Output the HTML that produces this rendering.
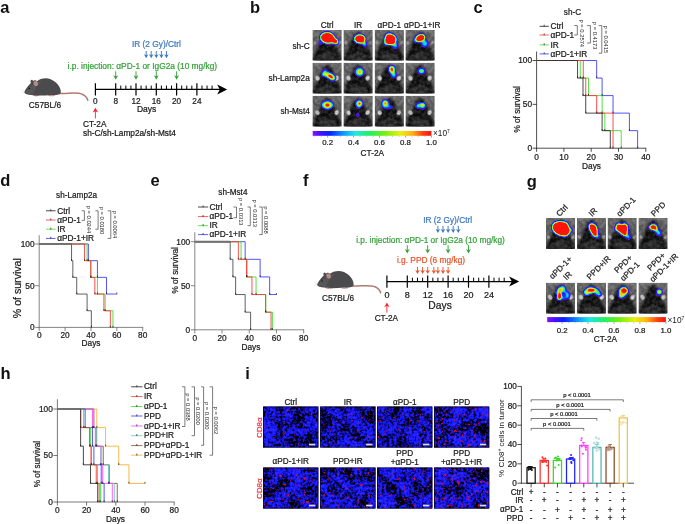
<!DOCTYPE html>
<html><head><meta charset="utf-8"><title>Figure</title>
<style>
html,body{margin:0;padding:0;background:#fff;}
svg{display:block;font-family:"Liberation Sans", Arial, Helvetica, sans-serif;}
</style></head>
<body>
<svg width="685" height="524" viewBox="0 0 685 524">

<defs>
<linearGradient id="rainbow" x1="0" x2="1" y1="0" y2="0">
<stop offset="0" stop-color="#8a10ff"/><stop offset="0.06" stop-color="#4a10ff"/><stop offset="0.14" stop-color="#0a20ff"/>
<stop offset="0.27" stop-color="#10a0ff"/><stop offset="0.36" stop-color="#20e8e0"/><stop offset="0.48" stop-color="#20f060"/>
<stop offset="0.60" stop-color="#70f010"/><stop offset="0.74" stop-color="#e8f010"/><stop offset="0.84" stop-color="#ffb010"/>
<stop offset="0.93" stop-color="#ff4010"/><stop offset="1" stop-color="#ff1010"/>
</linearGradient>
<linearGradient id="tilegrad" x1="0" x2="0" y1="0" y2="1">
<stop offset="0" stop-color="#888" stop-opacity="0.45"/><stop offset="0.5" stop-color="#555" stop-opacity="0.1"/><stop offset="1" stop-color="#222" stop-opacity="0.35"/>
</linearGradient>
<filter id="b1" x="-20%" y="-20%" width="140%" height="140%"><feGaussianBlur stdDeviation="0.9"/></filter>
<filter id="b05" x="-30%" y="-30%" width="160%" height="160%"><feGaussianBlur stdDeviation="0.6"/></filter>
<filter id="b03" x="-30%" y="-30%" width="160%" height="160%"><feGaussianBlur stdDeviation="0.25"/></filter>

<filter id="heat" x="-10%" y="-10%" width="120%" height="120%" color-interpolation-filters="sRGB">
<feGaussianBlur in="SourceAlpha" stdDeviation="0.95" result="bl"/>
<feColorMatrix in="bl" type="matrix" values="0 0 0 1 0  0 0 0 1 0  0 0 0 1 0  0 0 0 1 0" result="g"/>
<feComponentTransfer in="g">
<feFuncR type="table" tableValues="0.60 0.60 0.30 0.08 0.05 0.05 0.20 0.65 0.95 1.00 1.00 1.00 1.00"/>
<feFuncG type="table" tableValues="0.05 0.05 0.08 0.12 0.40 0.85 0.95 0.95 0.90 0.55 0.10 0.08 0.08"/>
<feFuncB type="table" tableValues="0.95 0.95 1.00 1.00 1.00 0.95 0.30 0.10 0.08 0.05 0.05 0.05 0.05"/>
<feFuncA type="linear" slope="12" intercept="-0.9"/>
</feComponentTransfer>
</filter>
<filter id="gn0" x="0" y="0" width="100%" height="100%" color-interpolation-filters="sRGB">
<feTurbulence type="fractalNoise" baseFrequency="0.28" numOctaves="3" seed="11"/>
<feColorMatrix type="matrix" values="3 0 0 0 -1  3 0 0 0 -1  3 0 0 0 -1  0 0 0 0 0.5"/>
<feComposite operator="in" in2="SourceGraphic"/>
</filter>
<filter id="gn1" x="0" y="0" width="100%" height="100%" color-interpolation-filters="sRGB">
<feTurbulence type="fractalNoise" baseFrequency="0.28" numOctaves="3" seed="18"/>
<feColorMatrix type="matrix" values="3 0 0 0 -1  3 0 0 0 -1  3 0 0 0 -1  0 0 0 0 0.5"/>
<feComposite operator="in" in2="SourceGraphic"/>
</filter>
<filter id="gn2" x="0" y="0" width="100%" height="100%" color-interpolation-filters="sRGB">
<feTurbulence type="fractalNoise" baseFrequency="0.28" numOctaves="3" seed="25"/>
<feColorMatrix type="matrix" values="3 0 0 0 -1  3 0 0 0 -1  3 0 0 0 -1  0 0 0 0 0.5"/>
<feComposite operator="in" in2="SourceGraphic"/>
</filter>
<filter id="cells0" x="0" y="0" width="100%" height="100%" color-interpolation-filters="sRGB">
<feTurbulence type="fractalNoise" baseFrequency="0.4" numOctaves="2" seed="3"/>
<feColorMatrix type="matrix" values="1 0 0 0 0  1 0 0 0 0  1 0 0 0 0  0 0 0 0 1" result="a"/>
<feTurbulence type="fractalNoise" baseFrequency="0.07" numOctaves="2" seed="70"/>
<feColorMatrix type="matrix" values="1 0 0 0 0  1 0 0 0 0  1 0 0 0 0  0 0 0 0 1" result="b"/>
<feComposite operator="arithmetic" in="a" in2="b" k1="0" k2="1" k3="0.8" k4="-0.4"/>
<feColorMatrix type="matrix" values="0.3 0 0 0 -0.09  0.3 0 0 0 -0.09  3.1 0 0 0 -0.88  0 0 0 0 1"/>
<feComposite operator="in" in2="SourceGraphic"/>
</filter>
<filter id="redc0" x="0" y="0" width="100%" height="100%" color-interpolation-filters="sRGB">
<feTurbulence type="fractalNoise" baseFrequency="0.3" numOctaves="2" seed="41" result="n"/>
<feColorMatrix type="matrix" values="0 0 0 0 0.85  0 0 0 0 0.05  0 0 0 0 0.22  0 6 0 0 -4.20"/>
<feComposite operator="in" in2="SourceGraphic"/>
</filter>
<filter id="cells1" x="0" y="0" width="100%" height="100%" color-interpolation-filters="sRGB">
<feTurbulence type="fractalNoise" baseFrequency="0.4" numOctaves="2" seed="8"/>
<feColorMatrix type="matrix" values="1 0 0 0 0  1 0 0 0 0  1 0 0 0 0  0 0 0 0 1" result="a"/>
<feTurbulence type="fractalNoise" baseFrequency="0.07" numOctaves="2" seed="73"/>
<feColorMatrix type="matrix" values="1 0 0 0 0  1 0 0 0 0  1 0 0 0 0  0 0 0 0 1" result="b"/>
<feComposite operator="arithmetic" in="a" in2="b" k1="0" k2="1" k3="0.8" k4="-0.4"/>
<feColorMatrix type="matrix" values="0.3 0 0 0 -0.09  0.3 0 0 0 -0.09  3.1 0 0 0 -0.88  0 0 0 0 1"/>
<feComposite operator="in" in2="SourceGraphic"/>
</filter>
<filter id="redc1" x="0" y="0" width="100%" height="100%" color-interpolation-filters="sRGB">
<feTurbulence type="fractalNoise" baseFrequency="0.3" numOctaves="2" seed="50" result="n"/>
<feColorMatrix type="matrix" values="0 0 0 0 0.85  0 0 0 0 0.05  0 0 0 0 0.22  0 6 0 0 -4.08"/>
<feComposite operator="in" in2="SourceGraphic"/>
</filter>
<filter id="cells2" x="0" y="0" width="100%" height="100%" color-interpolation-filters="sRGB">
<feTurbulence type="fractalNoise" baseFrequency="0.4" numOctaves="2" seed="13"/>
<feColorMatrix type="matrix" values="1 0 0 0 0  1 0 0 0 0  1 0 0 0 0  0 0 0 0 1" result="a"/>
<feTurbulence type="fractalNoise" baseFrequency="0.07" numOctaves="2" seed="76"/>
<feColorMatrix type="matrix" values="1 0 0 0 0  1 0 0 0 0  1 0 0 0 0  0 0 0 0 1" result="b"/>
<feComposite operator="arithmetic" in="a" in2="b" k1="0" k2="1" k3="0.8" k4="-0.4"/>
<feColorMatrix type="matrix" values="0.3 0 0 0 -0.09  0.3 0 0 0 -0.09  3.1 0 0 0 -0.88  0 0 0 0 1"/>
<feComposite operator="in" in2="SourceGraphic"/>
</filter>
<filter id="redc2" x="0" y="0" width="100%" height="100%" color-interpolation-filters="sRGB">
<feTurbulence type="fractalNoise" baseFrequency="0.3" numOctaves="2" seed="59" result="n"/>
<feColorMatrix type="matrix" values="0 0 0 0 0.85  0 0 0 0 0.05  0 0 0 0 0.22  0 6 0 0 -4.02"/>
<feComposite operator="in" in2="SourceGraphic"/>
</filter>
<filter id="cells3" x="0" y="0" width="100%" height="100%" color-interpolation-filters="sRGB">
<feTurbulence type="fractalNoise" baseFrequency="0.4" numOctaves="2" seed="18"/>
<feColorMatrix type="matrix" values="1 0 0 0 0  1 0 0 0 0  1 0 0 0 0  0 0 0 0 1" result="a"/>
<feTurbulence type="fractalNoise" baseFrequency="0.07" numOctaves="2" seed="79"/>
<feColorMatrix type="matrix" values="1 0 0 0 0  1 0 0 0 0  1 0 0 0 0  0 0 0 0 1" result="b"/>
<feComposite operator="arithmetic" in="a" in2="b" k1="0" k2="1" k3="0.8" k4="-0.4"/>
<feColorMatrix type="matrix" values="0.3 0 0 0 -0.09  0.3 0 0 0 -0.09  3.1 0 0 0 -0.88  0 0 0 0 1"/>
<feComposite operator="in" in2="SourceGraphic"/>
</filter>
<filter id="redc3" x="0" y="0" width="100%" height="100%" color-interpolation-filters="sRGB">
<feTurbulence type="fractalNoise" baseFrequency="0.3" numOctaves="2" seed="68" result="n"/>
<feColorMatrix type="matrix" values="0 0 0 0 0.85  0 0 0 0 0.05  0 0 0 0 0.22  0 6 0 0 -3.84"/>
<feComposite operator="in" in2="SourceGraphic"/>
</filter>
<filter id="cells4" x="0" y="0" width="100%" height="100%" color-interpolation-filters="sRGB">
<feTurbulence type="fractalNoise" baseFrequency="0.4" numOctaves="2" seed="23"/>
<feColorMatrix type="matrix" values="1 0 0 0 0  1 0 0 0 0  1 0 0 0 0  0 0 0 0 1" result="a"/>
<feTurbulence type="fractalNoise" baseFrequency="0.07" numOctaves="2" seed="82"/>
<feColorMatrix type="matrix" values="1 0 0 0 0  1 0 0 0 0  1 0 0 0 0  0 0 0 0 1" result="b"/>
<feComposite operator="arithmetic" in="a" in2="b" k1="0" k2="1" k3="0.8" k4="-0.4"/>
<feColorMatrix type="matrix" values="0.3 0 0 0 -0.09  0.3 0 0 0 -0.09  3.1 0 0 0 -0.88  0 0 0 0 1"/>
<feComposite operator="in" in2="SourceGraphic"/>
</filter>
<filter id="redc4" x="0" y="0" width="100%" height="100%" color-interpolation-filters="sRGB">
<feTurbulence type="fractalNoise" baseFrequency="0.3" numOctaves="2" seed="77" result="n"/>
<feColorMatrix type="matrix" values="0 0 0 0 0.85  0 0 0 0 0.05  0 0 0 0 0.22  0 6 0 0 -3.90"/>
<feComposite operator="in" in2="SourceGraphic"/>
</filter>
<filter id="cells5" x="0" y="0" width="100%" height="100%" color-interpolation-filters="sRGB">
<feTurbulence type="fractalNoise" baseFrequency="0.4" numOctaves="2" seed="28"/>
<feColorMatrix type="matrix" values="1 0 0 0 0  1 0 0 0 0  1 0 0 0 0  0 0 0 0 1" result="a"/>
<feTurbulence type="fractalNoise" baseFrequency="0.07" numOctaves="2" seed="85"/>
<feColorMatrix type="matrix" values="1 0 0 0 0  1 0 0 0 0  1 0 0 0 0  0 0 0 0 1" result="b"/>
<feComposite operator="arithmetic" in="a" in2="b" k1="0" k2="1" k3="0.8" k4="-0.4"/>
<feColorMatrix type="matrix" values="0.3 0 0 0 -0.09  0.3 0 0 0 -0.09  3.1 0 0 0 -0.88  0 0 0 0 1"/>
<feComposite operator="in" in2="SourceGraphic"/>
</filter>
<filter id="redc5" x="0" y="0" width="100%" height="100%" color-interpolation-filters="sRGB">
<feTurbulence type="fractalNoise" baseFrequency="0.3" numOctaves="2" seed="86" result="n"/>
<feColorMatrix type="matrix" values="0 0 0 0 0.85  0 0 0 0 0.05  0 0 0 0 0.22  0 6 0 0 -3.90"/>
<feComposite operator="in" in2="SourceGraphic"/>
</filter>
<filter id="cells6" x="0" y="0" width="100%" height="100%" color-interpolation-filters="sRGB">
<feTurbulence type="fractalNoise" baseFrequency="0.4" numOctaves="2" seed="33"/>
<feColorMatrix type="matrix" values="1 0 0 0 0  1 0 0 0 0  1 0 0 0 0  0 0 0 0 1" result="a"/>
<feTurbulence type="fractalNoise" baseFrequency="0.07" numOctaves="2" seed="88"/>
<feColorMatrix type="matrix" values="1 0 0 0 0  1 0 0 0 0  1 0 0 0 0  0 0 0 0 1" result="b"/>
<feComposite operator="arithmetic" in="a" in2="b" k1="0" k2="1" k3="0.8" k4="-0.4"/>
<feColorMatrix type="matrix" values="0.3 0 0 0 -0.09  0.3 0 0 0 -0.09  3.1 0 0 0 -0.88  0 0 0 0 1"/>
<feComposite operator="in" in2="SourceGraphic"/>
</filter>
<filter id="redc6" x="0" y="0" width="100%" height="100%" color-interpolation-filters="sRGB">
<feTurbulence type="fractalNoise" baseFrequency="0.3" numOctaves="2" seed="95" result="n"/>
<feColorMatrix type="matrix" values="0 0 0 0 0.85  0 0 0 0 0.05  0 0 0 0 0.22  0 6 0 0 -3.96"/>
<feComposite operator="in" in2="SourceGraphic"/>
</filter>
<filter id="cells7" x="0" y="0" width="100%" height="100%" color-interpolation-filters="sRGB">
<feTurbulence type="fractalNoise" baseFrequency="0.4" numOctaves="2" seed="38"/>
<feColorMatrix type="matrix" values="1 0 0 0 0  1 0 0 0 0  1 0 0 0 0  0 0 0 0 1" result="a"/>
<feTurbulence type="fractalNoise" baseFrequency="0.07" numOctaves="2" seed="91"/>
<feColorMatrix type="matrix" values="1 0 0 0 0  1 0 0 0 0  1 0 0 0 0  0 0 0 0 1" result="b"/>
<feComposite operator="arithmetic" in="a" in2="b" k1="0" k2="1" k3="0.8" k4="-0.4"/>
<feColorMatrix type="matrix" values="0.3 0 0 0 -0.09  0.3 0 0 0 -0.09  3.1 0 0 0 -0.88  0 0 0 0 1"/>
<feComposite operator="in" in2="SourceGraphic"/>
</filter>
<filter id="redc7" x="0" y="0" width="100%" height="100%" color-interpolation-filters="sRGB">
<feTurbulence type="fractalNoise" baseFrequency="0.3" numOctaves="2" seed="104" result="n"/>
<feColorMatrix type="matrix" values="0 0 0 0 0.85  0 0 0 0 0.05  0 0 0 0 0.22  0 6 0 0 -3.66"/>
<feComposite operator="in" in2="SourceGraphic"/>
</filter>
</defs>
<rect width="685" height="524" fill="#fff"/>
<text x="0.20" y="12.60" font-size="16.5" text-anchor="start" fill="#111" stroke="#111" stroke-width="0" font-weight="bold">a</text>
<g transform="translate(24.20 92.00) scale(1.0)">
<path d="M34 1.2 C42 2.2 52 -0.5 58 2.2 C61.5 3.8 63 6 63.6 8.2" stroke="#b07a70" stroke-width="1.5" fill="none" stroke-linecap="round"/>
<ellipse cx="12" cy="3.6" rx="3.2" ry="0.8" fill="#c99a92"/>
<ellipse cx="27.5" cy="3.4" rx="3.6" ry="0.8" fill="#c99a92"/>
<path d="M0 0.2 C1.5 -3.5 5 -8 8.5 -10.5 C10 -12.5 12 -12 12.8 -10.8 C16 -13.5 22 -14.8 27 -12.5 C33 -9.8 37 -4 36.6 0.2 C36.2 3 32 3.2 27 3 C20 3.6 12 3.8 7 3 C3.5 2.6 0.8 2 0 0.2 Z" fill="#4b4a4c"/>
<path d="M5 -4 C9 -9 14 -11 18 -11 C14 -7 10 -2 9 2.6 C6 2.2 2 2 0.5 0.5 Z" fill="#565557"/>
<ellipse cx="11.6" cy="-8.6" rx="2.2" ry="2.6" fill="#b88a86" transform="rotate(-20 11.6 -8.6)"/>
<ellipse cx="7.6" cy="-10.6" rx="1.3" ry="1.6" fill="#4b4a4c"/>
<circle cx="5.2" cy="-3.6" r="0.7" fill="#151515"/>
<path d="M0.5 -0.5 L-2.6 -2.2 M0.5 0 L-2.8 0.6" stroke="#bbb" stroke-width="0.3"/>
</g>
<text x="28.80" y="108.20" font-size="8.3" text-anchor="start" fill="#1a1a1a" stroke="#1a1a1a" stroke-width="0.22" font-weight="normal">C57BL/6</text>
<line x1="95.40" y1="89.45" x2="221.20" y2="89.45" stroke="#000" stroke-width="1.25"/>
<path d="M227.20 89.45 L217.20 84.45 L219.80 89.45 L217.20 94.45 Z" fill="#000"/>
<line x1="95.40" y1="83.35" x2="95.40" y2="95.55" stroke="#000" stroke-width="1.2"/>
<text x="95.40" y="103.50" font-size="8.2" text-anchor="middle" fill="#1a1a1a" stroke="#1a1a1a" stroke-width="0.22" font-weight="normal">0</text>
<line x1="115.70" y1="83.35" x2="115.70" y2="95.55" stroke="#000" stroke-width="1.2"/>
<text x="115.70" y="103.50" font-size="8.2" text-anchor="middle" fill="#1a1a1a" stroke="#1a1a1a" stroke-width="0.22" font-weight="normal">8</text>
<line x1="120.78" y1="85.55" x2="120.78" y2="89.45" stroke="#000" stroke-width="1.0"/>
<line x1="125.85" y1="85.55" x2="125.85" y2="89.45" stroke="#000" stroke-width="1.0"/>
<line x1="130.93" y1="85.55" x2="130.93" y2="89.45" stroke="#000" stroke-width="1.0"/>
<line x1="136.00" y1="83.35" x2="136.00" y2="95.55" stroke="#000" stroke-width="1.2"/>
<text x="136.00" y="103.50" font-size="8.2" text-anchor="middle" fill="#1a1a1a" stroke="#1a1a1a" stroke-width="0.22" font-weight="normal">12</text>
<line x1="141.07" y1="85.55" x2="141.07" y2="89.45" stroke="#000" stroke-width="1.0"/>
<line x1="146.15" y1="85.55" x2="146.15" y2="89.45" stroke="#000" stroke-width="1.0"/>
<line x1="151.22" y1="85.55" x2="151.22" y2="89.45" stroke="#000" stroke-width="1.0"/>
<line x1="156.30" y1="83.35" x2="156.30" y2="95.55" stroke="#000" stroke-width="1.2"/>
<text x="156.30" y="103.50" font-size="8.2" text-anchor="middle" fill="#1a1a1a" stroke="#1a1a1a" stroke-width="0.22" font-weight="normal">16</text>
<line x1="161.38" y1="85.55" x2="161.38" y2="89.45" stroke="#000" stroke-width="1.0"/>
<line x1="166.45" y1="85.55" x2="166.45" y2="89.45" stroke="#000" stroke-width="1.0"/>
<line x1="171.53" y1="85.55" x2="171.53" y2="89.45" stroke="#000" stroke-width="1.0"/>
<line x1="176.60" y1="83.35" x2="176.60" y2="95.55" stroke="#000" stroke-width="1.2"/>
<text x="176.60" y="103.50" font-size="8.2" text-anchor="middle" fill="#1a1a1a" stroke="#1a1a1a" stroke-width="0.22" font-weight="normal">20</text>
<line x1="181.68" y1="85.55" x2="181.68" y2="89.45" stroke="#000" stroke-width="1.0"/>
<line x1="186.75" y1="85.55" x2="186.75" y2="89.45" stroke="#000" stroke-width="1.0"/>
<line x1="191.83" y1="85.55" x2="191.83" y2="89.45" stroke="#000" stroke-width="1.0"/>
<line x1="196.90" y1="83.35" x2="196.90" y2="95.55" stroke="#000" stroke-width="1.2"/>
<text x="196.90" y="103.50" font-size="8.2" text-anchor="middle" fill="#1a1a1a" stroke="#1a1a1a" stroke-width="0.22" font-weight="normal">24</text>
<line x1="201.97" y1="85.55" x2="201.97" y2="89.45" stroke="#000" stroke-width="1.0"/>
<line x1="207.05" y1="85.55" x2="207.05" y2="89.45" stroke="#000" stroke-width="1.0"/>
<line x1="212.12" y1="85.55" x2="212.12" y2="89.45" stroke="#000" stroke-width="1.0"/>
<text x="146.60" y="112.40" font-size="8.5" text-anchor="middle" fill="#1a1a1a" stroke="#1a1a1a" stroke-width="0.22" font-weight="normal">Days</text>
<text x="67.60" y="68.80" font-size="8.35" text-anchor="start" fill="#35a23a" stroke="#35a23a" stroke-width="0.22" font-weight="normal">i.p. injection: αPD-1 or IgG2a (10 mg/kg)</text>
<text x="132.00" y="47.20" font-size="8.3" text-anchor="start" fill="#3b78c3" stroke="#3b78c3" stroke-width="0.22" font-weight="normal">IR (2 Gy)/Ctrl</text>
<line x1="146.15" y1="51.00" x2="146.15" y2="55.80" stroke="#3b78c3" stroke-width="0.95"/>
<path d="M143.90 54.20 L146.15 55.32 L148.40 54.20 L146.15 58.20 Z" fill="#3b78c3"/>
<line x1="151.23" y1="51.00" x2="151.23" y2="55.80" stroke="#3b78c3" stroke-width="0.95"/>
<path d="M148.98 54.20 L151.23 55.32 L153.48 54.20 L151.23 58.20 Z" fill="#3b78c3"/>
<line x1="156.30" y1="51.00" x2="156.30" y2="55.80" stroke="#3b78c3" stroke-width="0.95"/>
<path d="M154.05 54.20 L156.30 55.32 L158.55 54.20 L156.30 58.20 Z" fill="#3b78c3"/>
<line x1="161.38" y1="51.00" x2="161.38" y2="55.80" stroke="#3b78c3" stroke-width="0.95"/>
<path d="M159.12 54.20 L161.38 55.32 L163.62 54.20 L161.38 58.20 Z" fill="#3b78c3"/>
<line x1="166.45" y1="51.00" x2="166.45" y2="55.80" stroke="#3b78c3" stroke-width="0.95"/>
<path d="M164.20 54.20 L166.45 55.32 L168.70 54.20 L166.45 58.20 Z" fill="#3b78c3"/>
<line x1="115.70" y1="71.30" x2="115.70" y2="77.10" stroke="#35a23a" stroke-width="0.95"/>
<path d="M113.20 75.30 L115.70 76.56 L118.20 75.30 L115.70 79.80 Z" fill="#35a23a"/>
<line x1="136.00" y1="71.30" x2="136.00" y2="77.10" stroke="#35a23a" stroke-width="0.95"/>
<path d="M133.50 75.30 L136.00 76.56 L138.50 75.30 L136.00 79.80 Z" fill="#35a23a"/>
<line x1="156.30" y1="71.30" x2="156.30" y2="77.10" stroke="#35a23a" stroke-width="0.95"/>
<path d="M153.80 75.30 L156.30 76.56 L158.80 75.30 L156.30 79.80 Z" fill="#35a23a"/>
<line x1="176.60" y1="71.30" x2="176.60" y2="77.10" stroke="#35a23a" stroke-width="0.95"/>
<path d="M174.10 75.30 L176.60 76.56 L179.10 75.30 L176.60 79.80 Z" fill="#35a23a"/>
<line x1="95.40" y1="118.40" x2="95.40" y2="110.68" stroke="#f5222d" stroke-width="0.9"/>
<path d="M92.70 112.60 L95.40 111.26 L98.10 112.60 L95.40 107.80 Z" fill="#f5222d"/>
<text x="83.00" y="127.00" font-size="8.3" text-anchor="start" fill="#1a1a1a" stroke="#1a1a1a" stroke-width="0.22" font-weight="normal">CT-2A</text>
<text x="83.00" y="136.30" font-size="8.27" text-anchor="start" fill="#1a1a1a" stroke="#1a1a1a" stroke-width="0.22" font-weight="normal">sh-C/sh-Lamp2a/sh-Mst4</text>
<text x="250.00" y="12.60" font-size="16.5" text-anchor="start" fill="#111" stroke="#111" stroke-width="0" font-weight="bold">b</text>
<text x="327.10" y="28.20" font-size="8.2" text-anchor="middle" fill="#1a1a1a" stroke="#1a1a1a" stroke-width="0.22" font-weight="normal">Ctrl</text>
<text x="358.10" y="28.20" font-size="8.2" text-anchor="middle" fill="#1a1a1a" stroke="#1a1a1a" stroke-width="0.22" font-weight="normal">IR</text>
<text x="389.30" y="28.20" font-size="8.2" text-anchor="middle" fill="#1a1a1a" stroke="#1a1a1a" stroke-width="0.22" font-weight="normal">αPD-1</text>
<text x="404.00" y="28.20" font-size="8.2" text-anchor="start" fill="#1a1a1a" stroke="#1a1a1a" stroke-width="0.22" font-weight="normal">αPD-1+IR</text>
<text x="309.80" y="48.50" font-size="8.25" text-anchor="end" fill="#1a1a1a" stroke="#1a1a1a" stroke-width="0.22" font-weight="normal">sh-C</text>
<text x="309.80" y="81.40" font-size="8.25" text-anchor="end" fill="#1a1a1a" stroke="#1a1a1a" stroke-width="0.22" font-weight="normal">sh-Lamp2a</text>
<text x="309.80" y="114.40" font-size="8.25" text-anchor="end" fill="#1a1a1a" stroke="#1a1a1a" stroke-width="0.22" font-weight="normal">sh-Mst4</text>
<svg x="312.50" y="29.90" width="29.20" height="30.60" viewBox="0 0 29.20 30.60" overflow="hidden">
<rect width="29.20" height="30.60" fill="#5a5a5a"/>
<rect width="29.20" height="30.60" fill="url(#tilegrad)"/>
<path d="M14.60 1.84 C19.27 2.45 21.02 10.40 23.36 15.91 C26.86 22.03 28.32 27.54 28.32 32.60 L0.88 32.60 C0.88 27.54 2.34 22.03 5.84 15.91 C8.18 10.40 9.93 2.45 14.60 1.84 Z" fill="#0e0e0e" filter="url(#b1)"/>
<ellipse cx="14.60" cy="28.15" rx="8.76" ry="6.12" fill="#3a3a3a" opacity="0.55" filter="url(#b1)"/>
<ellipse cx="2.34" cy="12.85" rx="1.64" ry="2.08" fill="#8e8e8e" transform="rotate(-30 2.34 12.85)" filter="url(#b05)"/>
<ellipse cx="26.86" cy="12.85" rx="1.64" ry="2.08" fill="#8e8e8e" transform="rotate(30 26.86 12.85)" filter="url(#b05)"/>
<rect width="29.20" height="30.60" fill="#fff" filter="url(#gn0)" opacity="0.22"/>
<g filter="url(#heat)">
<ellipse cx="15.00" cy="8.00" rx="7.40" ry="5.60" fill="#fff" fill-opacity="1" transform="rotate(8 15.00 8.00)"/>
<ellipse cx="21.00" cy="10.80" rx="4.80" ry="2.70" fill="#fff" fill-opacity="1" transform="rotate(15 21.00 10.80)"/>
<ellipse cx="7.50" cy="13.60" rx="1.60" ry="1.80" fill="#fff" fill-opacity="0.35" transform="rotate(0 7.50 13.60)"/>
<ellipse cx="24.00" cy="13.00" rx="2.20" ry="1.60" fill="#fff" fill-opacity="0.45" transform="rotate(0 24.00 13.00)"/>
</g>
</svg>
<svg x="343.50" y="29.90" width="29.20" height="30.60" viewBox="0 0 29.20 30.60" overflow="hidden">
<rect width="29.20" height="30.60" fill="#5a5a5a"/>
<rect width="29.20" height="30.60" fill="url(#tilegrad)"/>
<path d="M14.60 1.84 C19.27 2.45 21.02 10.40 23.36 15.91 C26.86 22.03 28.32 27.54 28.32 32.60 L0.88 32.60 C0.88 27.54 2.34 22.03 5.84 15.91 C8.18 10.40 9.93 2.45 14.60 1.84 Z" fill="#0e0e0e" filter="url(#b1)"/>
<ellipse cx="14.60" cy="28.15" rx="8.76" ry="6.12" fill="#3a3a3a" opacity="0.55" filter="url(#b1)"/>
<ellipse cx="2.34" cy="12.85" rx="1.64" ry="2.08" fill="#8e8e8e" transform="rotate(-30 2.34 12.85)" filter="url(#b05)"/>
<ellipse cx="26.86" cy="12.85" rx="1.64" ry="2.08" fill="#8e8e8e" transform="rotate(30 26.86 12.85)" filter="url(#b05)"/>
<rect width="29.20" height="30.60" fill="#fff" filter="url(#gn1)" opacity="0.22"/>
<g filter="url(#heat)">
<ellipse cx="16.30" cy="9.00" rx="5.60" ry="4.40" fill="#fff" fill-opacity="1" transform="rotate(0 16.30 9.00)"/>
<ellipse cx="21.30" cy="14.60" rx="2.00" ry="2.40" fill="#fff" fill-opacity="0.45" transform="rotate(0 21.30 14.60)"/>
<ellipse cx="19.50" cy="12.50" rx="2.40" ry="1.60" fill="#fff" fill-opacity="0.5" transform="rotate(0 19.50 12.50)"/>
</g>
</svg>
<svg x="374.70" y="29.90" width="29.20" height="30.60" viewBox="0 0 29.20 30.60" overflow="hidden">
<rect width="29.20" height="30.60" fill="#5a5a5a"/>
<rect width="29.20" height="30.60" fill="url(#tilegrad)"/>
<path d="M14.60 1.84 C19.27 2.45 21.02 10.40 23.36 15.91 C26.86 22.03 28.32 27.54 28.32 32.60 L0.88 32.60 C0.88 27.54 2.34 22.03 5.84 15.91 C8.18 10.40 9.93 2.45 14.60 1.84 Z" fill="#0e0e0e" filter="url(#b1)"/>
<ellipse cx="14.60" cy="28.15" rx="8.76" ry="6.12" fill="#3a3a3a" opacity="0.55" filter="url(#b1)"/>
<ellipse cx="2.34" cy="12.85" rx="1.64" ry="2.08" fill="#8e8e8e" transform="rotate(-30 2.34 12.85)" filter="url(#b05)"/>
<ellipse cx="26.86" cy="12.85" rx="1.64" ry="2.08" fill="#8e8e8e" transform="rotate(30 26.86 12.85)" filter="url(#b05)"/>
<rect width="29.20" height="30.60" fill="#fff" filter="url(#gn2)" opacity="0.22"/>
<g filter="url(#heat)">
<ellipse cx="15.80" cy="9.60" rx="5.90" ry="5.60" fill="#fff" fill-opacity="1" transform="rotate(0 15.80 9.60)"/>
<ellipse cx="14.50" cy="6.50" rx="3.40" ry="3.00" fill="#fff" fill-opacity="1" transform="rotate(0 14.50 6.50)"/>
<ellipse cx="20.60" cy="15.60" rx="2.80" ry="3.00" fill="#fff" fill-opacity="0.42" transform="rotate(0 20.60 15.60)"/>
<ellipse cx="11.50" cy="12.50" rx="2.60" ry="2.60" fill="#fff" fill-opacity="0.5" transform="rotate(0 11.50 12.50)"/>
</g>
</svg>
<svg x="405.50" y="29.90" width="29.20" height="30.60" viewBox="0 0 29.20 30.60" overflow="hidden">
<rect width="29.20" height="30.60" fill="#5a5a5a"/>
<rect width="29.20" height="30.60" fill="url(#tilegrad)"/>
<path d="M14.60 1.84 C19.27 2.45 21.02 10.40 23.36 15.91 C26.86 22.03 28.32 27.54 28.32 32.60 L0.88 32.60 C0.88 27.54 2.34 22.03 5.84 15.91 C8.18 10.40 9.93 2.45 14.60 1.84 Z" fill="#0e0e0e" filter="url(#b1)"/>
<ellipse cx="14.60" cy="28.15" rx="8.76" ry="6.12" fill="#3a3a3a" opacity="0.55" filter="url(#b1)"/>
<ellipse cx="2.34" cy="12.85" rx="1.64" ry="2.08" fill="#8e8e8e" transform="rotate(-30 2.34 12.85)" filter="url(#b05)"/>
<ellipse cx="26.86" cy="12.85" rx="1.64" ry="2.08" fill="#8e8e8e" transform="rotate(30 26.86 12.85)" filter="url(#b05)"/>
<rect width="29.20" height="30.60" fill="#fff" filter="url(#gn0)" opacity="0.22"/>
<g filter="url(#heat)">
<ellipse cx="15.00" cy="8.00" rx="4.80" ry="3.60" fill="#fff" fill-opacity="1" transform="rotate(-20 15.00 8.00)"/>
<ellipse cx="11.50" cy="10.20" rx="3.40" ry="2.00" fill="#fff" fill-opacity="0.6" transform="rotate(10 11.50 10.20)"/>
<ellipse cx="19.30" cy="13.60" rx="3.40" ry="3.40" fill="#fff" fill-opacity="0.42" transform="rotate(0 19.30 13.60)"/>
</g>
</svg>
<svg x="312.50" y="62.80" width="29.20" height="30.60" viewBox="0 0 29.20 30.60" overflow="hidden">
<rect width="29.20" height="30.60" fill="#5a5a5a"/>
<rect width="29.20" height="30.60" fill="url(#tilegrad)"/>
<path d="M14.60 1.84 C19.27 2.45 21.02 10.40 23.36 15.91 C26.86 22.03 28.32 27.54 28.32 32.60 L0.88 32.60 C0.88 27.54 2.34 22.03 5.84 15.91 C8.18 10.40 9.93 2.45 14.60 1.84 Z" fill="#0e0e0e" filter="url(#b1)"/>
<ellipse cx="14.60" cy="28.15" rx="8.76" ry="6.12" fill="#3a3a3a" opacity="0.55" filter="url(#b1)"/>
<ellipse cx="4.96" cy="15.30" rx="2.04" ry="2.60" fill="#d8d8d8" transform="rotate(-30 4.96 15.30)" filter="url(#b05)"/>
<ellipse cx="24.24" cy="15.30" rx="2.04" ry="2.60" fill="#d8d8d8" transform="rotate(30 24.24 15.30)" filter="url(#b05)"/>
<rect width="29.20" height="30.60" fill="#fff" filter="url(#gn1)" opacity="0.22"/>
<g filter="url(#heat)">
<ellipse cx="16.50" cy="12.60" rx="7.40" ry="3.00" fill="#fff" fill-opacity="0.62" transform="rotate(25 16.50 12.60)"/>
<ellipse cx="18.00" cy="13.60" rx="2.80" ry="1.40" fill="#fff" fill-opacity="1" transform="rotate(25 18.00 13.60)"/>
<ellipse cx="12.60" cy="7.20" rx="1.80" ry="1.40" fill="#fff" fill-opacity="0.35" transform="rotate(0 12.60 7.20)"/>
<ellipse cx="11.00" cy="12.00" rx="2.40" ry="1.60" fill="#fff" fill-opacity="0.4" transform="rotate(0 11.00 12.00)"/>
<ellipse cx="20.00" cy="16.60" rx="2.60" ry="1.40" fill="#fff" fill-opacity="0.5" transform="rotate(0 20.00 16.60)"/>
</g>
</svg>
<svg x="343.50" y="62.80" width="29.20" height="30.60" viewBox="0 0 29.20 30.60" overflow="hidden">
<rect width="29.20" height="30.60" fill="#5a5a5a"/>
<rect width="29.20" height="30.60" fill="url(#tilegrad)"/>
<path d="M14.60 1.84 C19.27 2.45 21.02 10.40 23.36 15.91 C26.86 22.03 28.32 27.54 28.32 32.60 L0.88 32.60 C0.88 27.54 2.34 22.03 5.84 15.91 C8.18 10.40 9.93 2.45 14.60 1.84 Z" fill="#0e0e0e" filter="url(#b1)"/>
<ellipse cx="14.60" cy="28.15" rx="8.76" ry="6.12" fill="#3a3a3a" opacity="0.55" filter="url(#b1)"/>
<ellipse cx="4.96" cy="15.30" rx="2.04" ry="2.60" fill="#d8d8d8" transform="rotate(-30 4.96 15.30)" filter="url(#b05)"/>
<ellipse cx="24.24" cy="15.30" rx="2.04" ry="2.60" fill="#d8d8d8" transform="rotate(30 24.24 15.30)" filter="url(#b05)"/>
<rect width="29.20" height="30.60" fill="#fff" filter="url(#gn2)" opacity="0.22"/>
<g filter="url(#heat)">
<ellipse cx="16.10" cy="9.10" rx="4.60" ry="4.40" fill="#fff" fill-opacity="0.5" transform="rotate(0 16.10 9.10)"/>
<ellipse cx="16.30" cy="9.30" rx="2.00" ry="1.90" fill="#fff" fill-opacity="0.62" transform="rotate(0 16.30 9.30)"/>
</g>
</svg>
<svg x="374.70" y="62.80" width="29.20" height="30.60" viewBox="0 0 29.20 30.60" overflow="hidden">
<rect width="29.20" height="30.60" fill="#5a5a5a"/>
<rect width="29.20" height="30.60" fill="url(#tilegrad)"/>
<path d="M14.60 1.84 C19.27 2.45 21.02 10.40 23.36 15.91 C26.86 22.03 28.32 27.54 28.32 32.60 L0.88 32.60 C0.88 27.54 2.34 22.03 5.84 15.91 C8.18 10.40 9.93 2.45 14.60 1.84 Z" fill="#0e0e0e" filter="url(#b1)"/>
<ellipse cx="14.60" cy="28.15" rx="8.76" ry="6.12" fill="#3a3a3a" opacity="0.55" filter="url(#b1)"/>
<ellipse cx="4.96" cy="15.30" rx="2.04" ry="2.60" fill="#d8d8d8" transform="rotate(-30 4.96 15.30)" filter="url(#b05)"/>
<ellipse cx="24.24" cy="15.30" rx="2.04" ry="2.60" fill="#d8d8d8" transform="rotate(30 24.24 15.30)" filter="url(#b05)"/>
<rect width="29.20" height="30.60" fill="#fff" filter="url(#gn0)" opacity="0.22"/>
<g filter="url(#heat)">
<ellipse cx="17.20" cy="6.40" rx="3.20" ry="3.60" fill="#fff" fill-opacity="0.62" transform="rotate(0 17.20 6.40)"/>
<ellipse cx="17.00" cy="6.20" rx="1.60" ry="1.80" fill="#fff" fill-opacity="0.9" transform="rotate(0 17.00 6.20)"/>
<ellipse cx="19.20" cy="12.30" rx="2.60" ry="3.00" fill="#fff" fill-opacity="0.42" transform="rotate(0 19.20 12.30)"/>
<ellipse cx="18.00" cy="9.50" rx="2.40" ry="2.40" fill="#fff" fill-opacity="0.4" transform="rotate(0 18.00 9.50)"/>
</g>
</svg>
<svg x="405.50" y="62.80" width="29.20" height="30.60" viewBox="0 0 29.20 30.60" overflow="hidden">
<rect width="29.20" height="30.60" fill="#5a5a5a"/>
<rect width="29.20" height="30.60" fill="url(#tilegrad)"/>
<path d="M14.60 1.84 C19.27 2.45 21.02 10.40 23.36 15.91 C26.86 22.03 28.32 27.54 28.32 32.60 L0.88 32.60 C0.88 27.54 2.34 22.03 5.84 15.91 C8.18 10.40 9.93 2.45 14.60 1.84 Z" fill="#0e0e0e" filter="url(#b1)"/>
<ellipse cx="14.60" cy="28.15" rx="8.76" ry="6.12" fill="#3a3a3a" opacity="0.55" filter="url(#b1)"/>
<ellipse cx="4.96" cy="15.30" rx="2.04" ry="2.60" fill="#d8d8d8" transform="rotate(-30 4.96 15.30)" filter="url(#b05)"/>
<ellipse cx="24.24" cy="15.30" rx="2.04" ry="2.60" fill="#d8d8d8" transform="rotate(30 24.24 15.30)" filter="url(#b05)"/>
<rect width="29.20" height="30.60" fill="#fff" filter="url(#gn1)" opacity="0.22"/>
<g filter="url(#heat)">
<ellipse cx="15.90" cy="8.10" rx="3.60" ry="3.00" fill="#fff" fill-opacity="0.42" transform="rotate(0 15.90 8.10)"/>
<ellipse cx="16.20" cy="8.30" rx="1.60" ry="1.20" fill="#fff" fill-opacity="0.6" transform="rotate(0 16.20 8.30)"/>
</g>
</svg>
<svg x="312.50" y="95.80" width="29.20" height="30.60" viewBox="0 0 29.20 30.60" overflow="hidden">
<rect width="29.20" height="30.60" fill="#5a5a5a"/>
<rect width="29.20" height="30.60" fill="url(#tilegrad)"/>
<path d="M14.60 1.84 C19.27 2.45 21.02 10.40 23.36 15.91 C26.86 22.03 28.32 27.54 28.32 32.60 L0.88 32.60 C0.88 27.54 2.34 22.03 5.84 15.91 C8.18 10.40 9.93 2.45 14.60 1.84 Z" fill="#0e0e0e" filter="url(#b1)"/>
<ellipse cx="14.60" cy="28.15" rx="8.76" ry="6.12" fill="#3a3a3a" opacity="0.55" filter="url(#b1)"/>
<ellipse cx="4.96" cy="16.83" rx="2.04" ry="2.60" fill="#cfcfcf" transform="rotate(-30 4.96 16.83)" filter="url(#b05)"/>
<ellipse cx="24.24" cy="16.83" rx="2.04" ry="2.60" fill="#cfcfcf" transform="rotate(30 24.24 16.83)" filter="url(#b05)"/>
<rect width="29.20" height="30.60" fill="#fff" filter="url(#gn2)" opacity="0.22"/>
<g filter="url(#heat)">
<ellipse cx="14.90" cy="9.20" rx="6.00" ry="4.00" fill="#fff" fill-opacity="0.6" transform="rotate(0 14.90 9.20)"/>
<ellipse cx="14.90" cy="9.30" rx="2.40" ry="1.60" fill="#fff" fill-opacity="1" transform="rotate(0 14.90 9.30)"/>
</g>
</svg>
<svg x="343.50" y="95.80" width="29.20" height="30.60" viewBox="0 0 29.20 30.60" overflow="hidden">
<rect width="29.20" height="30.60" fill="#5a5a5a"/>
<rect width="29.20" height="30.60" fill="url(#tilegrad)"/>
<path d="M14.60 1.84 C19.27 2.45 21.02 10.40 23.36 15.91 C26.86 22.03 28.32 27.54 28.32 32.60 L0.88 32.60 C0.88 27.54 2.34 22.03 5.84 15.91 C8.18 10.40 9.93 2.45 14.60 1.84 Z" fill="#0e0e0e" filter="url(#b1)"/>
<ellipse cx="14.60" cy="28.15" rx="8.76" ry="6.12" fill="#3a3a3a" opacity="0.55" filter="url(#b1)"/>
<ellipse cx="4.96" cy="16.83" rx="2.04" ry="2.60" fill="#cfcfcf" transform="rotate(-30 4.96 16.83)" filter="url(#b05)"/>
<ellipse cx="24.24" cy="16.83" rx="2.04" ry="2.60" fill="#cfcfcf" transform="rotate(30 24.24 16.83)" filter="url(#b05)"/>
<rect width="29.20" height="30.60" fill="#fff" filter="url(#gn0)" opacity="0.22"/>
<g filter="url(#heat)">
<ellipse cx="15.80" cy="7.80" rx="3.60" ry="3.60" fill="#fff" fill-opacity="0.55" transform="rotate(20 15.80 7.80)"/>
<ellipse cx="16.00" cy="7.60" rx="1.50" ry="1.60" fill="#fff" fill-opacity="1" transform="rotate(0 16.00 7.60)"/>
<ellipse cx="14.30" cy="19.10" rx="1.60" ry="1.60" fill="#fff" fill-opacity="0.42" transform="rotate(0 14.30 19.10)"/>
<ellipse cx="15.00" cy="11.60" rx="1.60" ry="1.40" fill="#fff" fill-opacity="0.35" transform="rotate(0 15.00 11.60)"/>
</g>
</svg>
<svg x="374.70" y="95.80" width="29.20" height="30.60" viewBox="0 0 29.20 30.60" overflow="hidden">
<rect width="29.20" height="30.60" fill="#5a5a5a"/>
<rect width="29.20" height="30.60" fill="url(#tilegrad)"/>
<path d="M14.60 1.84 C19.27 2.45 21.02 10.40 23.36 15.91 C26.86 22.03 28.32 27.54 28.32 32.60 L0.88 32.60 C0.88 27.54 2.34 22.03 5.84 15.91 C8.18 10.40 9.93 2.45 14.60 1.84 Z" fill="#0e0e0e" filter="url(#b1)"/>
<ellipse cx="14.60" cy="28.15" rx="8.76" ry="6.12" fill="#3a3a3a" opacity="0.55" filter="url(#b1)"/>
<ellipse cx="4.96" cy="16.83" rx="2.04" ry="2.60" fill="#cfcfcf" transform="rotate(-30 4.96 16.83)" filter="url(#b05)"/>
<ellipse cx="24.24" cy="16.83" rx="2.04" ry="2.60" fill="#cfcfcf" transform="rotate(30 24.24 16.83)" filter="url(#b05)"/>
<rect width="29.20" height="30.60" fill="#fff" filter="url(#gn1)" opacity="0.22"/>
<g filter="url(#heat)">
<ellipse cx="10.70" cy="8.20" rx="3.60" ry="4.20" fill="#fff" fill-opacity="0.5" transform="rotate(-10 10.70 8.20)"/>
<ellipse cx="10.60" cy="7.60" rx="1.50" ry="1.80" fill="#fff" fill-opacity="0.85" transform="rotate(0 10.60 7.60)"/>
<ellipse cx="15.50" cy="11.50" rx="2.20" ry="1.80" fill="#fff" fill-opacity="0.38" transform="rotate(0 15.50 11.50)"/>
<ellipse cx="19.30" cy="17.60" rx="1.00" ry="1.00" fill="#fff" fill-opacity="0.3" transform="rotate(0 19.30 17.60)"/>
</g>
</svg>
<svg x="405.50" y="95.80" width="29.20" height="30.60" viewBox="0 0 29.20 30.60" overflow="hidden">
<rect width="29.20" height="30.60" fill="#5a5a5a"/>
<rect width="29.20" height="30.60" fill="url(#tilegrad)"/>
<path d="M14.60 1.84 C19.27 2.45 21.02 10.40 23.36 15.91 C26.86 22.03 28.32 27.54 28.32 32.60 L0.88 32.60 C0.88 27.54 2.34 22.03 5.84 15.91 C8.18 10.40 9.93 2.45 14.60 1.84 Z" fill="#0e0e0e" filter="url(#b1)"/>
<ellipse cx="14.60" cy="28.15" rx="8.76" ry="6.12" fill="#3a3a3a" opacity="0.55" filter="url(#b1)"/>
<ellipse cx="4.96" cy="16.83" rx="2.04" ry="2.60" fill="#cfcfcf" transform="rotate(-30 4.96 16.83)" filter="url(#b05)"/>
<ellipse cx="24.24" cy="16.83" rx="2.04" ry="2.60" fill="#cfcfcf" transform="rotate(30 24.24 16.83)" filter="url(#b05)"/>
<rect width="29.20" height="30.60" fill="#fff" filter="url(#gn2)" opacity="0.22"/>
<g filter="url(#heat)">
<ellipse cx="15.60" cy="9.60" rx="4.80" ry="2.60" fill="#fff" fill-opacity="0.45" transform="rotate(5 15.60 9.60)"/>
<ellipse cx="17.20" cy="9.20" rx="1.80" ry="1.30" fill="#fff" fill-opacity="0.9" transform="rotate(0 17.20 9.20)"/>
<ellipse cx="12.00" cy="11.00" rx="2.40" ry="1.60" fill="#fff" fill-opacity="0.3" transform="rotate(0 12.00 11.00)"/>
<ellipse cx="17.50" cy="13.00" rx="1.40" ry="1.20" fill="#fff" fill-opacity="0.3" transform="rotate(0 17.50 13.00)"/>
</g>
</svg>
<rect x="312.70" y="131.00" width="118.70" height="4.80" fill="url(#rainbow)"/>
<line x1="314.65" y1="135.80" x2="314.65" y2="137.00" stroke="#999" stroke-width="0.5"/>
<line x1="321.13" y1="135.80" x2="321.13" y2="137.00" stroke="#999" stroke-width="0.5"/>
<line x1="327.62" y1="135.80" x2="327.62" y2="137.60" stroke="#444" stroke-width="0.5"/>
<line x1="334.10" y1="135.80" x2="334.10" y2="137.00" stroke="#999" stroke-width="0.5"/>
<line x1="340.59" y1="135.80" x2="340.59" y2="137.00" stroke="#999" stroke-width="0.5"/>
<line x1="347.08" y1="135.80" x2="347.08" y2="137.00" stroke="#999" stroke-width="0.5"/>
<line x1="353.56" y1="135.80" x2="353.56" y2="137.60" stroke="#444" stroke-width="0.5"/>
<line x1="360.05" y1="135.80" x2="360.05" y2="137.00" stroke="#999" stroke-width="0.5"/>
<line x1="366.54" y1="135.80" x2="366.54" y2="137.00" stroke="#999" stroke-width="0.5"/>
<line x1="373.02" y1="135.80" x2="373.02" y2="137.00" stroke="#999" stroke-width="0.5"/>
<line x1="379.51" y1="135.80" x2="379.51" y2="137.60" stroke="#444" stroke-width="0.5"/>
<line x1="386.00" y1="135.80" x2="386.00" y2="137.00" stroke="#999" stroke-width="0.5"/>
<line x1="392.48" y1="135.80" x2="392.48" y2="137.00" stroke="#999" stroke-width="0.5"/>
<line x1="398.97" y1="135.80" x2="398.97" y2="137.00" stroke="#999" stroke-width="0.5"/>
<line x1="405.45" y1="135.80" x2="405.45" y2="137.60" stroke="#444" stroke-width="0.5"/>
<line x1="411.94" y1="135.80" x2="411.94" y2="137.00" stroke="#999" stroke-width="0.5"/>
<line x1="418.43" y1="135.80" x2="418.43" y2="137.00" stroke="#999" stroke-width="0.5"/>
<line x1="424.91" y1="135.80" x2="424.91" y2="137.00" stroke="#999" stroke-width="0.5"/>
<line x1="431.40" y1="135.80" x2="431.40" y2="137.60" stroke="#444" stroke-width="0.5"/>
<text x="327.62" y="145.20" font-size="7.9" text-anchor="middle" fill="#1a1a1a" stroke="#1a1a1a" stroke-width="0.22" font-weight="normal">0.2</text>
<text x="353.56" y="145.20" font-size="7.9" text-anchor="middle" fill="#1a1a1a" stroke="#1a1a1a" stroke-width="0.22" font-weight="normal">0.4</text>
<text x="379.51" y="145.20" font-size="7.9" text-anchor="middle" fill="#1a1a1a" stroke="#1a1a1a" stroke-width="0.22" font-weight="normal">0.6</text>
<text x="405.45" y="145.20" font-size="7.9" text-anchor="middle" fill="#1a1a1a" stroke="#1a1a1a" stroke-width="0.22" font-weight="normal">0.8</text>
<text x="431.40" y="145.20" font-size="7.9" text-anchor="middle" fill="#1a1a1a" stroke="#1a1a1a" stroke-width="0.22" font-weight="normal">1.0</text>
<text x="433.00" y="136.40" font-size="8.3" fill="#1a1a1a">×10<tspan font-size="4.90" dy="-3.2">7</tspan></text>
<text x="372.30" y="155.70" font-size="8.25" text-anchor="middle" fill="#1a1a1a" stroke="#1a1a1a" stroke-width="0.22" font-weight="normal">CT-2A</text>
<text x="473.50" y="12.60" font-size="16.5" text-anchor="start" fill="#111" stroke="#111" stroke-width="0" font-weight="bold">c</text>
<text x="572.50" y="14.90" font-size="8.2" text-anchor="middle" fill="#1a1a1a" stroke="#1a1a1a" stroke-width="0.22" font-weight="normal">sh-C</text>
<line x1="536.60" y1="51.50" x2="536.60" y2="148.60" stroke="#222" stroke-width="0.8"/>
<line x1="536.20" y1="148.20" x2="646.20" y2="148.20" stroke="#222" stroke-width="0.8"/>
<line x1="532.60" y1="148.20" x2="536.60" y2="148.20" stroke="#222" stroke-width="0.8"/>
<text x="532.00" y="151.10" font-size="8.3" text-anchor="end" fill="#1a1a1a" stroke="#1a1a1a" stroke-width="0.22" font-weight="normal">0</text>
<line x1="532.60" y1="104.35" x2="536.60" y2="104.35" stroke="#222" stroke-width="0.8"/>
<text x="532.00" y="107.25" font-size="8.3" text-anchor="end" fill="#1a1a1a" stroke="#1a1a1a" stroke-width="0.22" font-weight="normal">50</text>
<line x1="532.60" y1="60.50" x2="536.60" y2="60.50" stroke="#222" stroke-width="0.8"/>
<text x="532.00" y="63.40" font-size="8.3" text-anchor="end" fill="#1a1a1a" stroke="#1a1a1a" stroke-width="0.22" font-weight="normal">100</text>
<line x1="536.60" y1="148.20" x2="536.60" y2="151.80" stroke="#222" stroke-width="0.8"/>
<text x="536.60" y="159.70" font-size="8.3" text-anchor="middle" fill="#1a1a1a" stroke="#1a1a1a" stroke-width="0.22" font-weight="normal">0</text>
<line x1="563.90" y1="148.20" x2="563.90" y2="151.80" stroke="#222" stroke-width="0.8"/>
<text x="563.90" y="159.70" font-size="8.3" text-anchor="middle" fill="#1a1a1a" stroke="#1a1a1a" stroke-width="0.22" font-weight="normal">10</text>
<line x1="591.20" y1="148.20" x2="591.20" y2="151.80" stroke="#222" stroke-width="0.8"/>
<text x="591.20" y="159.70" font-size="8.3" text-anchor="middle" fill="#1a1a1a" stroke="#1a1a1a" stroke-width="0.22" font-weight="normal">20</text>
<line x1="618.50" y1="148.20" x2="618.50" y2="151.80" stroke="#222" stroke-width="0.8"/>
<text x="618.50" y="159.70" font-size="8.3" text-anchor="middle" fill="#1a1a1a" stroke="#1a1a1a" stroke-width="0.22" font-weight="normal">30</text>
<line x1="645.80" y1="148.20" x2="645.80" y2="151.80" stroke="#222" stroke-width="0.8"/>
<text x="645.80" y="159.70" font-size="8.3" text-anchor="middle" fill="#1a1a1a" stroke="#1a1a1a" stroke-width="0.22" font-weight="normal">40</text>
<text x="591.50" y="168.70" font-size="8.3" text-anchor="middle" fill="#1a1a1a" stroke="#1a1a1a" stroke-width="0.22" font-weight="normal">Days</text>
<text x="519.60" y="109.30" font-size="8.2" text-anchor="middle" fill="#1a1a1a" stroke="#1a1a1a" stroke-width="0.22" font-weight="normal" transform="rotate(-90 519.60 109.30)">% of survival</text>
<path d="M536.60 60.50 L596.66 60.50 L596.66 78.04 L602.12 78.04 L602.12 95.58 L613.04 95.58 L613.04 113.12 L629.42 113.12 L629.42 130.66 L637.61 130.66 L637.61 148.20" stroke="#3535ff" stroke-width="0.85" fill="none" stroke-linejoin="miter"/>
<path d="M536.60 60.50 L580.28 60.50 L580.28 78.04 L588.47 78.04 L588.47 95.58 L602.12 95.58 L602.12 113.12 L604.85 113.12 L604.85 130.66 L621.23 130.66 L621.23 148.20" stroke="#33dd22" stroke-width="0.85" fill="none" stroke-linejoin="miter"/>
<path d="M536.60 60.50 L583.28 60.50 L583.28 78.04 L585.74 78.04 L585.74 95.58 L596.66 95.58 L596.66 113.12 L613.04 113.12 L613.04 148.20" stroke="#ff3030" stroke-width="0.85" fill="none" stroke-linejoin="miter"/>
<path d="M536.60 60.50 L577.55 60.50 L577.55 78.04 L583.01 78.04 L583.01 95.58 L585.74 95.58 L585.74 113.12 L602.12 113.12 L602.12 130.66 L610.31 130.66 L610.31 148.20" stroke="#2a2a2a" stroke-width="0.85" fill="none" stroke-linejoin="miter"/>
<line x1="596.66" y1="76.44" x2="596.66" y2="78.24" stroke="#111" stroke-width="0.7"/>
<line x1="602.12" y1="93.98" x2="602.12" y2="95.78" stroke="#111" stroke-width="0.7"/>
<line x1="613.04" y1="111.52" x2="613.04" y2="113.32" stroke="#111" stroke-width="0.7"/>
<line x1="629.42" y1="129.06" x2="629.42" y2="130.86" stroke="#111" stroke-width="0.7"/>
<line x1="637.61" y1="146.60" x2="637.61" y2="148.40" stroke="#111" stroke-width="0.7"/>
<line x1="580.28" y1="76.44" x2="580.28" y2="78.24" stroke="#111" stroke-width="0.7"/>
<line x1="588.47" y1="93.98" x2="588.47" y2="95.78" stroke="#111" stroke-width="0.7"/>
<line x1="602.12" y1="111.52" x2="602.12" y2="113.32" stroke="#111" stroke-width="0.7"/>
<line x1="604.85" y1="129.06" x2="604.85" y2="130.86" stroke="#111" stroke-width="0.7"/>
<line x1="621.23" y1="146.60" x2="621.23" y2="148.40" stroke="#111" stroke-width="0.7"/>
<line x1="583.28" y1="76.44" x2="583.28" y2="78.24" stroke="#111" stroke-width="0.7"/>
<line x1="585.74" y1="93.98" x2="585.74" y2="95.78" stroke="#111" stroke-width="0.7"/>
<line x1="596.66" y1="111.52" x2="596.66" y2="113.32" stroke="#111" stroke-width="0.7"/>
<line x1="613.04" y1="146.60" x2="613.04" y2="148.40" stroke="#111" stroke-width="0.7"/>
<line x1="577.55" y1="76.44" x2="577.55" y2="78.24" stroke="#111" stroke-width="0.7"/>
<line x1="583.01" y1="93.98" x2="583.01" y2="95.78" stroke="#111" stroke-width="0.7"/>
<line x1="585.74" y1="111.52" x2="585.74" y2="113.32" stroke="#111" stroke-width="0.7"/>
<line x1="602.12" y1="129.06" x2="602.12" y2="130.86" stroke="#111" stroke-width="0.7"/>
<line x1="610.31" y1="146.60" x2="610.31" y2="148.40" stroke="#111" stroke-width="0.7"/>
<line x1="539.60" y1="26.30" x2="548.80" y2="26.30" stroke="#1a1a1a" stroke-width="0.8"/>
<line x1="544.20" y1="24.70" x2="544.20" y2="26.60" stroke="#111" stroke-width="0.7"/>
<text x="550.40" y="28.90" font-size="8.3" text-anchor="start" fill="#1a1a1a" stroke="#1a1a1a" stroke-width="0.22" font-weight="normal">Ctrl</text>
<line x1="539.60" y1="35.00" x2="548.80" y2="35.00" stroke="#ff3030" stroke-width="0.8"/>
<line x1="544.20" y1="33.40" x2="544.20" y2="35.30" stroke="#111" stroke-width="0.7"/>
<text x="550.40" y="37.90" font-size="8.3" text-anchor="start" fill="#1a1a1a" stroke="#1a1a1a" stroke-width="0.22" font-weight="normal">αPD-1</text>
<line x1="539.60" y1="44.90" x2="548.80" y2="44.90" stroke="#33dd22" stroke-width="0.8"/>
<line x1="544.20" y1="43.30" x2="544.20" y2="45.20" stroke="#111" stroke-width="0.7"/>
<text x="550.40" y="47.50" font-size="8.3" text-anchor="start" fill="#1a1a1a" stroke="#1a1a1a" stroke-width="0.22" font-weight="normal">IR</text>
<line x1="539.60" y1="53.90" x2="548.80" y2="53.90" stroke="#3535ff" stroke-width="0.8"/>
<line x1="544.20" y1="52.30" x2="544.20" y2="54.20" stroke="#111" stroke-width="0.7"/>
<text x="550.40" y="56.50" font-size="8.3" text-anchor="start" fill="#1a1a1a" stroke="#1a1a1a" stroke-width="0.22" font-weight="normal">αPD-1+IR</text>
<path d="M574.20 25.60 L577.30 25.60 L577.30 35.00 L574.20 35.00" stroke="#222" stroke-width="0.6" fill="none"/>
<text x="582.00" y="33.30" font-size="5.8" text-anchor="middle" fill="#1a1a1a" transform="rotate(90 582.00 33.30)" dy="2">p = 0.2574</text>
<path d="M587.10 25.60 L590.40 25.60 L590.40 43.00 L587.10 43.00" stroke="#222" stroke-width="0.6" fill="none"/>
<text x="594.60" y="35.60" font-size="5.8" text-anchor="middle" fill="#1a1a1a" transform="rotate(90 594.60 35.60)" dy="2">p = 0.4173</text>
<path d="M598.70 25.60 L601.80 25.60 L601.80 53.20 L598.70 53.20" stroke="#222" stroke-width="0.6" fill="none"/>
<text x="606.30" y="39.40" font-size="5.8" text-anchor="middle" fill="#1a1a1a" transform="rotate(90 606.30 39.40)" dy="2">p = 0.0415</text>
<text x="0.20" y="186.20" font-size="16.5" text-anchor="start" fill="#111" stroke="#111" stroke-width="0" font-weight="bold">d</text>
<text x="76.60" y="197.50" font-size="8.2" text-anchor="middle" fill="#1a1a1a" stroke="#1a1a1a" stroke-width="0.22" font-weight="normal">sh-Lamp2a</text>
<line x1="39.20" y1="235.30" x2="39.20" y2="327.80" stroke="#666" stroke-width="0.8"/>
<line x1="38.80" y1="327.40" x2="143.12" y2="327.40" stroke="#666" stroke-width="0.8"/>
<line x1="35.20" y1="327.40" x2="39.20" y2="327.40" stroke="#666" stroke-width="0.8"/>
<text x="34.60" y="330.30" font-size="8.3" text-anchor="end" fill="#1a1a1a" stroke="#1a1a1a" stroke-width="0.22" font-weight="normal">0</text>
<line x1="35.20" y1="285.70" x2="39.20" y2="285.70" stroke="#666" stroke-width="0.8"/>
<text x="34.60" y="288.60" font-size="8.3" text-anchor="end" fill="#1a1a1a" stroke="#1a1a1a" stroke-width="0.22" font-weight="normal">50</text>
<line x1="35.20" y1="244.00" x2="39.20" y2="244.00" stroke="#666" stroke-width="0.8"/>
<text x="34.60" y="246.90" font-size="8.3" text-anchor="end" fill="#1a1a1a" stroke="#1a1a1a" stroke-width="0.22" font-weight="normal">100</text>
<line x1="39.20" y1="327.40" x2="39.20" y2="331.00" stroke="#666" stroke-width="0.8"/>
<text x="39.20" y="337.90" font-size="8.3" text-anchor="middle" fill="#1a1a1a" stroke="#1a1a1a" stroke-width="0.22" font-weight="normal">0</text>
<line x1="65.08" y1="327.40" x2="65.08" y2="331.00" stroke="#666" stroke-width="0.8"/>
<text x="65.08" y="337.90" font-size="8.3" text-anchor="middle" fill="#1a1a1a" stroke="#1a1a1a" stroke-width="0.22" font-weight="normal">20</text>
<line x1="90.96" y1="327.40" x2="90.96" y2="331.00" stroke="#666" stroke-width="0.8"/>
<text x="90.96" y="337.90" font-size="8.3" text-anchor="middle" fill="#1a1a1a" stroke="#1a1a1a" stroke-width="0.22" font-weight="normal">40</text>
<line x1="116.84" y1="327.40" x2="116.84" y2="331.00" stroke="#666" stroke-width="0.8"/>
<text x="116.84" y="337.90" font-size="8.3" text-anchor="middle" fill="#1a1a1a" stroke="#1a1a1a" stroke-width="0.22" font-weight="normal">60</text>
<line x1="142.72" y1="327.40" x2="142.72" y2="331.00" stroke="#666" stroke-width="0.8"/>
<text x="142.72" y="337.90" font-size="8.3" text-anchor="middle" fill="#1a1a1a" stroke="#1a1a1a" stroke-width="0.22" font-weight="normal">80</text>
<text x="91.00" y="346.20" font-size="8.3" text-anchor="middle" fill="#1a1a1a" stroke="#1a1a1a" stroke-width="0.22" font-weight="normal">Days</text>
<text x="20.80" y="288.20" font-size="10.6" text-anchor="middle" fill="#1a1a1a" stroke="#1a1a1a" stroke-width="0.22" font-weight="normal" transform="rotate(-90 20.80 288.20)">% of survival</text>
<path d="M39.20 244.00 L88.37 244.00 L88.37 260.68 L97.43 260.68 L97.43 277.36 L106.49 277.36 L106.49 294.04 L116.84 294.04" stroke="#3535ff" stroke-width="0.85" fill="none" stroke-linejoin="miter"/>
<path d="M39.20 244.00 L87.08 244.00 L87.08 260.68 L90.96 260.68 L90.96 277.36 L97.43 277.36 L97.43 294.04 L105.19 294.04 L105.19 310.72 L112.96 310.72 L112.96 327.40" stroke="#33dd22" stroke-width="0.85" fill="none" stroke-linejoin="miter"/>
<path d="M39.20 244.00 L84.49 244.00 L84.49 260.68 L90.70 260.68 L90.70 277.36 L94.84 277.36 L94.84 294.04 L103.90 294.04 L103.90 310.72 L110.37 310.72 L110.37 327.40" stroke="#ff3030" stroke-width="0.85" fill="none" stroke-linejoin="miter"/>
<path d="M39.20 244.00 L71.55 244.00 L71.55 260.68 L72.84 260.68 L72.84 277.36 L76.73 277.36 L76.73 294.04 L87.08 294.04 L87.08 310.72 L91.35 310.72 L91.35 327.40" stroke="#444" stroke-width="0.85" fill="none" stroke-linejoin="miter"/>
<line x1="39.20" y1="244.00" x2="71.55" y2="244.00" stroke="#727272" stroke-width="1.9"/>
<line x1="88.37" y1="259.08" x2="88.37" y2="260.88" stroke="#111" stroke-width="0.7"/>
<line x1="97.43" y1="275.76" x2="97.43" y2="277.56" stroke="#111" stroke-width="0.7"/>
<line x1="106.49" y1="292.44" x2="106.49" y2="294.24" stroke="#111" stroke-width="0.7"/>
<line x1="116.84" y1="292.44" x2="116.84" y2="294.24" stroke="#111" stroke-width="0.7"/>
<line x1="87.08" y1="259.08" x2="87.08" y2="260.88" stroke="#111" stroke-width="0.7"/>
<line x1="90.96" y1="275.76" x2="90.96" y2="277.56" stroke="#111" stroke-width="0.7"/>
<line x1="97.43" y1="292.44" x2="97.43" y2="294.24" stroke="#111" stroke-width="0.7"/>
<line x1="105.19" y1="309.12" x2="105.19" y2="310.92" stroke="#111" stroke-width="0.7"/>
<line x1="112.96" y1="325.80" x2="112.96" y2="327.60" stroke="#111" stroke-width="0.7"/>
<line x1="84.49" y1="259.08" x2="84.49" y2="260.88" stroke="#111" stroke-width="0.7"/>
<line x1="90.70" y1="275.76" x2="90.70" y2="277.56" stroke="#111" stroke-width="0.7"/>
<line x1="94.84" y1="292.44" x2="94.84" y2="294.24" stroke="#111" stroke-width="0.7"/>
<line x1="103.90" y1="309.12" x2="103.90" y2="310.92" stroke="#111" stroke-width="0.7"/>
<line x1="110.37" y1="325.80" x2="110.37" y2="327.60" stroke="#111" stroke-width="0.7"/>
<line x1="71.55" y1="259.08" x2="71.55" y2="260.88" stroke="#111" stroke-width="0.7"/>
<line x1="72.84" y1="275.76" x2="72.84" y2="277.56" stroke="#111" stroke-width="0.7"/>
<line x1="76.73" y1="292.44" x2="76.73" y2="294.24" stroke="#111" stroke-width="0.7"/>
<line x1="87.08" y1="309.12" x2="87.08" y2="310.92" stroke="#111" stroke-width="0.7"/>
<line x1="91.35" y1="325.80" x2="91.35" y2="327.60" stroke="#111" stroke-width="0.7"/>
<line x1="46.00" y1="210.80" x2="55.60" y2="210.80" stroke="#1a1a1a" stroke-width="0.8"/>
<line x1="50.80" y1="209.20" x2="50.80" y2="211.10" stroke="#111" stroke-width="0.7"/>
<text x="57.20" y="213.80" font-size="8.3" text-anchor="start" fill="#1a1a1a" stroke="#1a1a1a" stroke-width="0.22" font-weight="normal">Ctrl</text>
<line x1="46.00" y1="220.00" x2="55.60" y2="220.00" stroke="#ff3030" stroke-width="0.8"/>
<line x1="50.80" y1="218.40" x2="50.80" y2="220.30" stroke="#111" stroke-width="0.7"/>
<text x="57.20" y="222.60" font-size="8.3" text-anchor="start" fill="#1a1a1a" stroke="#1a1a1a" stroke-width="0.22" font-weight="normal">αPD-1</text>
<line x1="46.00" y1="229.20" x2="55.60" y2="229.20" stroke="#33dd22" stroke-width="0.8"/>
<line x1="50.80" y1="227.60" x2="50.80" y2="229.50" stroke="#111" stroke-width="0.7"/>
<text x="57.20" y="231.80" font-size="8.3" text-anchor="start" fill="#1a1a1a" stroke="#1a1a1a" stroke-width="0.22" font-weight="normal">IR</text>
<line x1="46.00" y1="238.40" x2="55.60" y2="238.40" stroke="#3535ff" stroke-width="0.8"/>
<line x1="50.80" y1="236.80" x2="50.80" y2="238.70" stroke="#111" stroke-width="0.7"/>
<text x="57.20" y="240.60" font-size="8.3" text-anchor="start" fill="#1a1a1a" stroke="#1a1a1a" stroke-width="0.22" font-weight="normal">αPD-1+IR</text>
<path d="M81.70 210.80 L84.40 210.80 L84.40 220.40 L81.70 220.40" stroke="#222" stroke-width="0.6" fill="none"/>
<text x="89.30" y="219.50" font-size="5.8" text-anchor="middle" fill="#1a1a1a" transform="rotate(90 89.30 219.50)" dy="2">p = 0.0244</text>
<path d="M95.40 210.80 L98.10 210.80 L98.10 229.20 L95.40 229.20" stroke="#222" stroke-width="0.6" fill="none"/>
<text x="101.60" y="220.50" font-size="5.8" text-anchor="middle" fill="#1a1a1a" transform="rotate(90 101.60 220.50)" dy="2">p = 0.0180</text>
<path d="M107.70 210.80 L110.80 210.80 L110.80 238.40 L107.70 238.40" stroke="#222" stroke-width="0.6" fill="none"/>
<text x="114.90" y="224.50" font-size="5.8" text-anchor="middle" fill="#1a1a1a" transform="rotate(90 114.90 224.50)" dy="2">p = 0.0064</text>
<text x="150.60" y="186.20" font-size="16.5" text-anchor="start" fill="#111" stroke="#111" stroke-width="0" font-weight="bold">e</text>
<text x="232.90" y="194.60" font-size="8.2" text-anchor="middle" fill="#1a1a1a" stroke="#1a1a1a" stroke-width="0.22" font-weight="normal">sh-Mst4</text>
<line x1="194.80" y1="232.20" x2="194.80" y2="330.20" stroke="#666" stroke-width="0.8"/>
<line x1="194.40" y1="329.80" x2="304.08" y2="329.80" stroke="#666" stroke-width="0.8"/>
<line x1="190.80" y1="329.80" x2="194.80" y2="329.80" stroke="#666" stroke-width="0.8"/>
<text x="190.20" y="332.70" font-size="8.3" text-anchor="end" fill="#1a1a1a" stroke="#1a1a1a" stroke-width="0.22" font-weight="normal">0</text>
<line x1="190.80" y1="285.75" x2="194.80" y2="285.75" stroke="#666" stroke-width="0.8"/>
<text x="190.20" y="288.65" font-size="8.3" text-anchor="end" fill="#1a1a1a" stroke="#1a1a1a" stroke-width="0.22" font-weight="normal">50</text>
<line x1="190.80" y1="241.70" x2="194.80" y2="241.70" stroke="#666" stroke-width="0.8"/>
<text x="190.20" y="244.60" font-size="8.3" text-anchor="end" fill="#1a1a1a" stroke="#1a1a1a" stroke-width="0.22" font-weight="normal">100</text>
<line x1="194.80" y1="329.80" x2="194.80" y2="333.40" stroke="#666" stroke-width="0.8"/>
<text x="194.80" y="341.00" font-size="8.3" text-anchor="middle" fill="#1a1a1a" stroke="#1a1a1a" stroke-width="0.22" font-weight="normal">0</text>
<line x1="222.02" y1="329.80" x2="222.02" y2="333.40" stroke="#666" stroke-width="0.8"/>
<text x="222.02" y="341.00" font-size="8.3" text-anchor="middle" fill="#1a1a1a" stroke="#1a1a1a" stroke-width="0.22" font-weight="normal">20</text>
<line x1="249.24" y1="329.80" x2="249.24" y2="333.40" stroke="#666" stroke-width="0.8"/>
<text x="249.24" y="341.00" font-size="8.3" text-anchor="middle" fill="#1a1a1a" stroke="#1a1a1a" stroke-width="0.22" font-weight="normal">40</text>
<line x1="276.46" y1="329.80" x2="276.46" y2="333.40" stroke="#666" stroke-width="0.8"/>
<text x="276.46" y="341.00" font-size="8.3" text-anchor="middle" fill="#1a1a1a" stroke="#1a1a1a" stroke-width="0.22" font-weight="normal">60</text>
<line x1="303.68" y1="329.80" x2="303.68" y2="333.40" stroke="#666" stroke-width="0.8"/>
<text x="303.68" y="341.00" font-size="8.3" text-anchor="middle" fill="#1a1a1a" stroke="#1a1a1a" stroke-width="0.22" font-weight="normal">80</text>
<text x="250.90" y="349.60" font-size="8.3" text-anchor="middle" fill="#1a1a1a" stroke="#1a1a1a" stroke-width="0.22" font-weight="normal">Days</text>
<text x="177.60" y="270.30" font-size="8.2" text-anchor="middle" fill="#1a1a1a" stroke="#1a1a1a" stroke-width="0.22" font-weight="normal" transform="rotate(-90 177.60 270.30)">% of survival</text>
<path d="M194.80 241.70 L245.16 241.70 L245.16 259.32 L260.13 259.32 L260.13 276.94 L269.66 276.94 L269.66 294.56 L276.46 294.56" stroke="#3535ff" stroke-width="0.85" fill="none" stroke-linejoin="miter"/>
<path d="M194.80 241.70 L241.07 241.70 L241.07 259.32 L247.06 259.32 L247.06 276.94 L256.05 276.94 L256.05 294.56 L265.84 294.56 L265.84 312.18 L272.38 312.18 L272.38 329.80" stroke="#33dd22" stroke-width="0.85" fill="none" stroke-linejoin="miter"/>
<path d="M194.80 241.70 L238.35 241.70 L238.35 259.32 L246.52 259.32 L246.52 276.94 L251.96 276.94 L251.96 294.56 L265.57 294.56 L265.57 312.18 L271.02 312.18 L271.02 329.80" stroke="#ff3030" stroke-width="0.85" fill="none" stroke-linejoin="miter"/>
<path d="M194.80 241.70 L230.19 241.70 L230.19 259.32 L232.91 259.32 L232.91 276.94 L235.63 276.94 L235.63 294.56 L245.16 294.56 L245.16 312.18 L250.60 312.18 L250.60 329.80" stroke="#444" stroke-width="0.85" fill="none" stroke-linejoin="miter"/>
<line x1="194.80" y1="241.70" x2="230.19" y2="241.70" stroke="#727272" stroke-width="1.9"/>
<line x1="245.16" y1="257.72" x2="245.16" y2="259.52" stroke="#111" stroke-width="0.7"/>
<line x1="260.13" y1="275.34" x2="260.13" y2="277.14" stroke="#111" stroke-width="0.7"/>
<line x1="269.66" y1="292.96" x2="269.66" y2="294.76" stroke="#111" stroke-width="0.7"/>
<line x1="276.46" y1="292.96" x2="276.46" y2="294.76" stroke="#111" stroke-width="0.7"/>
<line x1="241.07" y1="257.72" x2="241.07" y2="259.52" stroke="#111" stroke-width="0.7"/>
<line x1="247.06" y1="275.34" x2="247.06" y2="277.14" stroke="#111" stroke-width="0.7"/>
<line x1="256.05" y1="292.96" x2="256.05" y2="294.76" stroke="#111" stroke-width="0.7"/>
<line x1="265.84" y1="310.58" x2="265.84" y2="312.38" stroke="#111" stroke-width="0.7"/>
<line x1="272.38" y1="328.20" x2="272.38" y2="330.00" stroke="#111" stroke-width="0.7"/>
<line x1="238.35" y1="257.72" x2="238.35" y2="259.52" stroke="#111" stroke-width="0.7"/>
<line x1="246.52" y1="275.34" x2="246.52" y2="277.14" stroke="#111" stroke-width="0.7"/>
<line x1="251.96" y1="292.96" x2="251.96" y2="294.76" stroke="#111" stroke-width="0.7"/>
<line x1="265.57" y1="310.58" x2="265.57" y2="312.38" stroke="#111" stroke-width="0.7"/>
<line x1="271.02" y1="328.20" x2="271.02" y2="330.00" stroke="#111" stroke-width="0.7"/>
<line x1="230.19" y1="257.72" x2="230.19" y2="259.52" stroke="#111" stroke-width="0.7"/>
<line x1="232.91" y1="275.34" x2="232.91" y2="277.14" stroke="#111" stroke-width="0.7"/>
<line x1="235.63" y1="292.96" x2="235.63" y2="294.76" stroke="#111" stroke-width="0.7"/>
<line x1="245.16" y1="310.58" x2="245.16" y2="312.38" stroke="#111" stroke-width="0.7"/>
<line x1="250.60" y1="328.20" x2="250.60" y2="330.00" stroke="#111" stroke-width="0.7"/>
<line x1="198.00" y1="207.00" x2="208.20" y2="207.00" stroke="#1a1a1a" stroke-width="0.8"/>
<line x1="203.10" y1="205.40" x2="203.10" y2="207.30" stroke="#111" stroke-width="0.7"/>
<text x="209.40" y="209.60" font-size="8.3" text-anchor="start" fill="#1a1a1a" stroke="#1a1a1a" stroke-width="0.22" font-weight="normal">Ctrl</text>
<line x1="198.00" y1="216.60" x2="208.20" y2="216.60" stroke="#ff3030" stroke-width="0.8"/>
<line x1="203.10" y1="215.00" x2="203.10" y2="216.90" stroke="#111" stroke-width="0.7"/>
<text x="209.40" y="219.40" font-size="8.3" text-anchor="start" fill="#1a1a1a" stroke="#1a1a1a" stroke-width="0.22" font-weight="normal">αPD-1</text>
<line x1="198.00" y1="225.70" x2="208.20" y2="225.70" stroke="#33dd22" stroke-width="0.8"/>
<line x1="203.10" y1="224.10" x2="203.10" y2="226.00" stroke="#111" stroke-width="0.7"/>
<text x="209.40" y="228.30" font-size="8.3" text-anchor="start" fill="#1a1a1a" stroke="#1a1a1a" stroke-width="0.22" font-weight="normal">IR</text>
<line x1="198.00" y1="234.60" x2="208.20" y2="234.60" stroke="#3535ff" stroke-width="0.8"/>
<line x1="203.10" y1="233.00" x2="203.10" y2="234.90" stroke="#111" stroke-width="0.7"/>
<text x="209.40" y="236.90" font-size="8.3" text-anchor="start" fill="#1a1a1a" stroke="#1a1a1a" stroke-width="0.22" font-weight="normal">αPD-1+IR</text>
<path d="M233.40 207.00 L236.50 207.00 L236.50 217.80 L233.40 217.80" stroke="#222" stroke-width="0.6" fill="none"/>
<text x="241.10" y="211.80" font-size="5.8" text-anchor="middle" fill="#1a1a1a" transform="rotate(90 241.10 211.80)" dy="2">p = 0.0313</text>
<path d="M247.50 207.00 L250.30 207.00 L250.30 225.70 L247.50 225.70" stroke="#222" stroke-width="0.6" fill="none"/>
<text x="254.50" y="213.20" font-size="5.8" text-anchor="middle" fill="#1a1a1a" transform="rotate(90 254.50 213.20)" dy="2">p = 0.0313</text>
<path d="M259.10 207.00 L262.20 207.00 L262.20 234.60 L259.10 234.60" stroke="#222" stroke-width="0.6" fill="none"/>
<text x="266.10" y="220.00" font-size="5.8" text-anchor="middle" fill="#1a1a1a" transform="rotate(90 266.10 220.00)" dy="2">p = 0.0088</text>
<text x="303.00" y="186.20" font-size="16.5" text-anchor="start" fill="#111" stroke="#111" stroke-width="0" font-weight="bold">f</text>
<g transform="translate(317.00 284.60) scale(1.0)">
<path d="M34 1.2 C42 2.2 52 -0.5 58 2.2 C61.5 3.8 63 6 63.6 8.2" stroke="#b07a70" stroke-width="1.5" fill="none" stroke-linecap="round"/>
<ellipse cx="12" cy="3.6" rx="3.2" ry="0.8" fill="#c99a92"/>
<ellipse cx="27.5" cy="3.4" rx="3.6" ry="0.8" fill="#c99a92"/>
<path d="M0 0.2 C1.5 -3.5 5 -8 8.5 -10.5 C10 -12.5 12 -12 12.8 -10.8 C16 -13.5 22 -14.8 27 -12.5 C33 -9.8 37 -4 36.6 0.2 C36.2 3 32 3.2 27 3 C20 3.6 12 3.8 7 3 C3.5 2.6 0.8 2 0 0.2 Z" fill="#4b4a4c"/>
<path d="M5 -4 C9 -9 14 -11 18 -11 C14 -7 10 -2 9 2.6 C6 2.2 2 2 0.5 0.5 Z" fill="#565557"/>
<ellipse cx="11.6" cy="-8.6" rx="2.2" ry="2.6" fill="#b88a86" transform="rotate(-20 11.6 -8.6)"/>
<ellipse cx="7.6" cy="-10.6" rx="1.3" ry="1.6" fill="#4b4a4c"/>
<circle cx="5.2" cy="-3.6" r="0.7" fill="#151515"/>
<path d="M0.5 -0.5 L-2.6 -2.2 M0.5 0 L-2.8 0.6" stroke="#bbb" stroke-width="0.3"/>
</g>
<text x="322.00" y="300.50" font-size="8.27" text-anchor="start" fill="#1a1a1a" stroke="#1a1a1a" stroke-width="0.22" font-weight="normal">C57BL/6</text>
<line x1="386.90" y1="281.60" x2="513.20" y2="281.60" stroke="#000" stroke-width="1.25"/>
<path d="M519.20 281.60 L509.20 276.60 L511.80 281.60 L509.20 286.60 Z" fill="#000"/>
<line x1="386.90" y1="275.50" x2="386.90" y2="287.70" stroke="#000" stroke-width="1.2"/>
<text x="386.90" y="297.60" font-size="9.0" text-anchor="middle" fill="#1a1a1a" stroke="#1a1a1a" stroke-width="0.22" font-weight="normal">0</text>
<line x1="407.30" y1="275.50" x2="407.30" y2="287.70" stroke="#000" stroke-width="1.2"/>
<text x="407.30" y="297.60" font-size="9.0" text-anchor="middle" fill="#1a1a1a" stroke="#1a1a1a" stroke-width="0.22" font-weight="normal">8</text>
<line x1="412.40" y1="277.70" x2="412.40" y2="281.60" stroke="#000" stroke-width="1.0"/>
<line x1="417.50" y1="277.70" x2="417.50" y2="281.60" stroke="#000" stroke-width="1.0"/>
<line x1="422.60" y1="277.70" x2="422.60" y2="281.60" stroke="#000" stroke-width="1.0"/>
<line x1="427.70" y1="275.50" x2="427.70" y2="287.70" stroke="#000" stroke-width="1.2"/>
<text x="427.70" y="297.60" font-size="9.0" text-anchor="middle" fill="#1a1a1a" stroke="#1a1a1a" stroke-width="0.22" font-weight="normal">12</text>
<line x1="432.80" y1="277.70" x2="432.80" y2="281.60" stroke="#000" stroke-width="1.0"/>
<line x1="437.90" y1="277.70" x2="437.90" y2="281.60" stroke="#000" stroke-width="1.0"/>
<line x1="443.00" y1="277.70" x2="443.00" y2="281.60" stroke="#000" stroke-width="1.0"/>
<line x1="448.10" y1="275.50" x2="448.10" y2="287.70" stroke="#000" stroke-width="1.2"/>
<text x="448.10" y="297.60" font-size="9.0" text-anchor="middle" fill="#1a1a1a" stroke="#1a1a1a" stroke-width="0.22" font-weight="normal">16</text>
<line x1="453.20" y1="277.70" x2="453.20" y2="281.60" stroke="#000" stroke-width="1.0"/>
<line x1="458.30" y1="277.70" x2="458.30" y2="281.60" stroke="#000" stroke-width="1.0"/>
<line x1="463.40" y1="277.70" x2="463.40" y2="281.60" stroke="#000" stroke-width="1.0"/>
<line x1="468.50" y1="275.50" x2="468.50" y2="287.70" stroke="#000" stroke-width="1.2"/>
<text x="468.50" y="297.60" font-size="9.0" text-anchor="middle" fill="#1a1a1a" stroke="#1a1a1a" stroke-width="0.22" font-weight="normal">20</text>
<line x1="473.60" y1="277.70" x2="473.60" y2="281.60" stroke="#000" stroke-width="1.0"/>
<line x1="478.70" y1="277.70" x2="478.70" y2="281.60" stroke="#000" stroke-width="1.0"/>
<line x1="483.80" y1="277.70" x2="483.80" y2="281.60" stroke="#000" stroke-width="1.0"/>
<line x1="488.90" y1="275.50" x2="488.90" y2="287.70" stroke="#000" stroke-width="1.2"/>
<text x="488.90" y="297.60" font-size="9.0" text-anchor="middle" fill="#1a1a1a" stroke="#1a1a1a" stroke-width="0.22" font-weight="normal">24</text>
<line x1="494.00" y1="277.70" x2="494.00" y2="281.60" stroke="#000" stroke-width="1.0"/>
<line x1="499.10" y1="277.70" x2="499.10" y2="281.60" stroke="#000" stroke-width="1.0"/>
<line x1="504.20" y1="277.70" x2="504.20" y2="281.60" stroke="#000" stroke-width="1.0"/>
<text x="440.10" y="308.60" font-size="10.3" text-anchor="middle" fill="#1a1a1a" stroke="#1a1a1a" stroke-width="0.22" font-weight="normal">Days</text>
<text x="423.20" y="222.70" font-size="8.3" text-anchor="start" fill="#3b78c3" stroke="#3b78c3" stroke-width="0.22" font-weight="normal">IR (2 Gy)/Ctrl</text>
<text x="356.20" y="243.00" font-size="8.3" text-anchor="start" fill="#35a23a" stroke="#35a23a" stroke-width="0.22" font-weight="normal">i.p. injection: αPD-1 or IgG2a (10 mg/kg)</text>
<text x="396.90" y="263.00" font-size="8.35" text-anchor="start" fill="#e8562a" stroke="#e8562a" stroke-width="0.22" font-weight="normal">i.g. PPD (6 mg/kg)</text>
<line x1="437.90" y1="225.80" x2="437.90" y2="230.60" stroke="#3b78c3" stroke-width="0.95"/>
<path d="M435.65 229.00 L437.90 230.12 L440.15 229.00 L437.90 233.00 Z" fill="#3b78c3"/>
<line x1="443.00" y1="225.80" x2="443.00" y2="230.60" stroke="#3b78c3" stroke-width="0.95"/>
<path d="M440.75 229.00 L443.00 230.12 L445.25 229.00 L443.00 233.00 Z" fill="#3b78c3"/>
<line x1="448.10" y1="225.80" x2="448.10" y2="230.60" stroke="#3b78c3" stroke-width="0.95"/>
<path d="M445.85 229.00 L448.10 230.12 L450.35 229.00 L448.10 233.00 Z" fill="#3b78c3"/>
<line x1="453.20" y1="225.80" x2="453.20" y2="230.60" stroke="#3b78c3" stroke-width="0.95"/>
<path d="M450.95 229.00 L453.20 230.12 L455.45 229.00 L453.20 233.00 Z" fill="#3b78c3"/>
<line x1="458.30" y1="225.80" x2="458.30" y2="230.60" stroke="#3b78c3" stroke-width="0.95"/>
<path d="M456.05 229.00 L458.30 230.12 L460.55 229.00 L458.30 233.00 Z" fill="#3b78c3"/>
<line x1="407.30" y1="245.20" x2="407.30" y2="250.90" stroke="#35a23a" stroke-width="0.95"/>
<path d="M404.80 249.10 L407.30 250.36 L409.80 249.10 L407.30 253.60 Z" fill="#35a23a"/>
<line x1="427.70" y1="245.20" x2="427.70" y2="250.90" stroke="#35a23a" stroke-width="0.95"/>
<path d="M425.20 249.10 L427.70 250.36 L430.20 249.10 L427.70 253.60 Z" fill="#35a23a"/>
<line x1="448.10" y1="245.20" x2="448.10" y2="250.90" stroke="#35a23a" stroke-width="0.95"/>
<path d="M445.60 249.10 L448.10 250.36 L450.60 249.10 L448.10 253.60 Z" fill="#35a23a"/>
<line x1="468.50" y1="245.20" x2="468.50" y2="250.90" stroke="#35a23a" stroke-width="0.95"/>
<path d="M466.00 249.10 L468.50 250.36 L471.00 249.10 L468.50 253.60 Z" fill="#35a23a"/>
<line x1="417.50" y1="267.00" x2="417.50" y2="271.60" stroke="#e8562a" stroke-width="0.95"/>
<path d="M415.20 270.00 L417.50 271.12 L419.80 270.00 L417.50 274.00 Z" fill="#e8562a"/>
<line x1="422.60" y1="267.00" x2="422.60" y2="271.60" stroke="#e8562a" stroke-width="0.95"/>
<path d="M420.30 270.00 L422.60 271.12 L424.90 270.00 L422.60 274.00 Z" fill="#e8562a"/>
<line x1="427.70" y1="267.00" x2="427.70" y2="271.60" stroke="#e8562a" stroke-width="0.95"/>
<path d="M425.40 270.00 L427.70 271.12 L430.00 270.00 L427.70 274.00 Z" fill="#e8562a"/>
<line x1="433.82" y1="267.00" x2="433.82" y2="271.60" stroke="#e8562a" stroke-width="0.95"/>
<path d="M431.52 270.00 L433.82 271.12 L436.12 270.00 L433.82 274.00 Z" fill="#e8562a"/>
<line x1="437.90" y1="267.00" x2="437.90" y2="271.60" stroke="#e8562a" stroke-width="0.95"/>
<path d="M435.60 270.00 L437.90 271.12 L440.20 270.00 L437.90 274.00 Z" fill="#e8562a"/>
<line x1="443.00" y1="267.00" x2="443.00" y2="271.60" stroke="#e8562a" stroke-width="0.95"/>
<path d="M440.70 270.00 L443.00 271.12 L445.30 270.00 L443.00 274.00 Z" fill="#e8562a"/>
<line x1="448.10" y1="267.00" x2="448.10" y2="271.60" stroke="#e8562a" stroke-width="0.95"/>
<path d="M445.80 270.00 L448.10 271.12 L450.40 270.00 L448.10 274.00 Z" fill="#e8562a"/>
<line x1="386.90" y1="312.60" x2="386.90" y2="305.28" stroke="#f5222d" stroke-width="0.9"/>
<path d="M384.20 307.20 L386.90 305.86 L389.60 307.20 L386.90 302.40 Z" fill="#f5222d"/>
<text x="386.30" y="320.60" font-size="8.2" text-anchor="middle" fill="#1a1a1a" stroke="#1a1a1a" stroke-width="0.22" font-weight="normal">CT-2A</text>
<text x="526.80" y="186.70" font-size="16.5" text-anchor="start" fill="#111" stroke="#111" stroke-width="0" font-weight="bold">g</text>
<svg x="546.00" y="217.90" width="29.10" height="31.00" viewBox="0 0 29.10 31.00" overflow="hidden">
<rect width="29.10" height="31.00" fill="#5a5a5a"/>
<rect width="29.10" height="31.00" fill="url(#tilegrad)"/>
<path d="M14.55 1.86 C19.21 2.48 20.95 10.54 23.28 16.12 C26.77 22.32 28.23 27.90 28.23 33.00 L0.87 33.00 C0.87 27.90 2.33 22.32 5.82 16.12 C8.15 10.54 9.89 2.48 14.55 1.86 Z" fill="#0e0e0e" filter="url(#b1)"/>
<ellipse cx="14.55" cy="28.52" rx="8.73" ry="6.20" fill="#3a3a3a" opacity="0.55" filter="url(#b1)"/>
<ellipse cx="2.33" cy="19.22" rx="1.63" ry="2.11" fill="#8e8e8e" transform="rotate(-30 2.33 19.22)" filter="url(#b05)"/>
<ellipse cx="26.77" cy="19.22" rx="1.63" ry="2.11" fill="#8e8e8e" transform="rotate(30 26.77 19.22)" filter="url(#b05)"/>
<rect width="29.10" height="31.00" fill="#fff" filter="url(#gn0)" opacity="0.22"/>
<g filter="url(#heat)">
<path d="M8 5 C12 2.5 19 3 21.5 5.5 C23 8 24.5 11 24 14.5 C22.5 18 19 19 16.5 18.2 C12 17.5 7.5 14.5 6.3 11 C5.6 8.5 6.5 6 8 5 Z" fill="#fff" fill-opacity="1"/>
<ellipse cx="25.20" cy="12.00" rx="1.40" ry="2.00" fill="#fff" fill-opacity="0.5" transform="rotate(0 25.20 12.00)"/>
</g>
</svg>
<svg x="576.90" y="217.90" width="29.10" height="31.00" viewBox="0 0 29.10 31.00" overflow="hidden">
<rect width="29.10" height="31.00" fill="#5a5a5a"/>
<rect width="29.10" height="31.00" fill="url(#tilegrad)"/>
<path d="M14.55 1.86 C19.21 2.48 20.95 10.54 23.28 16.12 C26.77 22.32 28.23 27.90 28.23 33.00 L0.87 33.00 C0.87 27.90 2.33 22.32 5.82 16.12 C8.15 10.54 9.89 2.48 14.55 1.86 Z" fill="#0e0e0e" filter="url(#b1)"/>
<ellipse cx="14.55" cy="28.52" rx="8.73" ry="6.20" fill="#3a3a3a" opacity="0.55" filter="url(#b1)"/>
<ellipse cx="2.33" cy="19.22" rx="1.63" ry="2.11" fill="#8e8e8e" transform="rotate(-30 2.33 19.22)" filter="url(#b05)"/>
<ellipse cx="26.77" cy="19.22" rx="1.63" ry="2.11" fill="#8e8e8e" transform="rotate(30 26.77 19.22)" filter="url(#b05)"/>
<rect width="29.10" height="31.00" fill="#fff" filter="url(#gn1)" opacity="0.22"/>
<g filter="url(#heat)">
<path d="M12.2 6.5 C14.5 4.6 18 5.5 19.6 8.5 C21 11.5 21 15.5 19.8 18.2 C18.4 19.6 16.6 18.6 15.4 16.6 C13.4 13.4 11.2 9.4 12.2 6.5 Z" fill="#fff" fill-opacity="1"/>
<ellipse cx="20.60" cy="18.20" rx="1.80" ry="2.20" fill="#fff" fill-opacity="0.5" transform="rotate(0 20.60 18.20)"/>
</g>
</svg>
<svg x="607.60" y="217.90" width="29.10" height="31.00" viewBox="0 0 29.10 31.00" overflow="hidden">
<rect width="29.10" height="31.00" fill="#5a5a5a"/>
<rect width="29.10" height="31.00" fill="url(#tilegrad)"/>
<path d="M14.55 1.86 C19.21 2.48 20.95 10.54 23.28 16.12 C26.77 22.32 28.23 27.90 28.23 33.00 L0.87 33.00 C0.87 27.90 2.33 22.32 5.82 16.12 C8.15 10.54 9.89 2.48 14.55 1.86 Z" fill="#0e0e0e" filter="url(#b1)"/>
<ellipse cx="14.55" cy="28.52" rx="8.73" ry="6.20" fill="#3a3a3a" opacity="0.55" filter="url(#b1)"/>
<ellipse cx="2.33" cy="19.22" rx="1.63" ry="2.11" fill="#8e8e8e" transform="rotate(-30 2.33 19.22)" filter="url(#b05)"/>
<ellipse cx="26.77" cy="19.22" rx="1.63" ry="2.11" fill="#8e8e8e" transform="rotate(30 26.77 19.22)" filter="url(#b05)"/>
<rect width="29.10" height="31.00" fill="#fff" filter="url(#gn2)" opacity="0.22"/>
<g filter="url(#heat)">
<path d="M8.4 8 C9.4 5 13 5 14 7.6 C15 4.6 19.4 4.8 20 8.4 C20.6 11.6 20 15.4 18.4 18.4 C16 18 13 15.6 10.6 13.6 C8.6 12 7.8 10 8.4 8 Z" fill="#fff" fill-opacity="1"/>
<ellipse cx="20.40" cy="18.60" rx="2.00" ry="3.00" fill="#fff" fill-opacity="0.45" transform="rotate(-25 20.40 18.60)"/>
<ellipse cx="8.20" cy="11.50" rx="1.60" ry="1.60" fill="#fff" fill-opacity="0.4" transform="rotate(0 8.20 11.50)"/>
</g>
</svg>
<svg x="638.50" y="217.90" width="29.10" height="31.00" viewBox="0 0 29.10 31.00" overflow="hidden">
<rect width="29.10" height="31.00" fill="#5a5a5a"/>
<rect width="29.10" height="31.00" fill="url(#tilegrad)"/>
<path d="M14.55 1.86 C19.21 2.48 20.95 10.54 23.28 16.12 C26.77 22.32 28.23 27.90 28.23 33.00 L0.87 33.00 C0.87 27.90 2.33 22.32 5.82 16.12 C8.15 10.54 9.89 2.48 14.55 1.86 Z" fill="#0e0e0e" filter="url(#b1)"/>
<ellipse cx="14.55" cy="28.52" rx="8.73" ry="6.20" fill="#3a3a3a" opacity="0.55" filter="url(#b1)"/>
<ellipse cx="2.33" cy="19.22" rx="1.63" ry="2.11" fill="#8e8e8e" transform="rotate(-30 2.33 19.22)" filter="url(#b05)"/>
<ellipse cx="26.77" cy="19.22" rx="1.63" ry="2.11" fill="#8e8e8e" transform="rotate(30 26.77 19.22)" filter="url(#b05)"/>
<rect width="29.10" height="31.00" fill="#fff" filter="url(#gn0)" opacity="0.22"/>
<g filter="url(#heat)">
<path d="M11 8.5 C12.5 5.6 17 5.6 18.4 8.4 C19 10 18.8 11.8 18.4 12.6 C16 12.4 13.6 11.6 11.6 11 C10.6 10.2 10.6 9.2 11 8.5 Z" fill="#fff" fill-opacity="1"/>
<ellipse cx="20.40" cy="15.40" rx="2.40" ry="2.60" fill="#fff" fill-opacity="0.42" transform="rotate(0 20.40 15.40)"/>
<ellipse cx="18.50" cy="13.00" rx="2.00" ry="1.60" fill="#fff" fill-opacity="0.5" transform="rotate(0 18.50 13.00)"/>
</g>
</svg>
<svg x="546.00" y="282.70" width="29.10" height="30.90" viewBox="0 0 29.10 30.90" overflow="hidden">
<rect width="29.10" height="30.90" fill="#5a5a5a"/>
<rect width="29.10" height="30.90" fill="url(#tilegrad)"/>
<path d="M14.55 1.85 C19.21 2.47 20.95 10.51 23.28 16.07 C26.77 22.25 28.23 27.81 28.23 32.90 L0.87 32.90 C0.87 27.81 2.33 22.25 5.82 16.07 C8.15 10.51 9.89 2.47 14.55 1.85 Z" fill="#0e0e0e" filter="url(#b1)"/>
<ellipse cx="14.55" cy="28.43" rx="8.73" ry="6.18" fill="#3a3a3a" opacity="0.55" filter="url(#b1)"/>
<ellipse cx="4.07" cy="14.52" rx="2.04" ry="2.63" fill="#d4d4d4" transform="rotate(-30 4.07 14.52)" filter="url(#b05)"/>
<ellipse cx="25.03" cy="14.52" rx="2.04" ry="2.63" fill="#d4d4d4" transform="rotate(30 25.03 14.52)" filter="url(#b05)"/>
<rect width="29.10" height="30.90" fill="#fff" filter="url(#gn1)" opacity="0.22"/>
<g filter="url(#heat)">
<ellipse cx="13.60" cy="13.60" rx="2.20" ry="3.80" fill="#fff" fill-opacity="1" transform="rotate(10 13.60 13.60)"/>
<ellipse cx="15.80" cy="6.20" rx="3.80" ry="2.80" fill="#fff" fill-opacity="0.6" transform="rotate(-30 15.80 6.20)"/>
<ellipse cx="12.80" cy="9.00" rx="2.60" ry="3.60" fill="#fff" fill-opacity="0.55" transform="rotate(20 12.80 9.00)"/>
<ellipse cx="21.40" cy="12.60" rx="2.60" ry="3.60" fill="#fff" fill-opacity="0.42" transform="rotate(0 21.40 12.60)"/>
<ellipse cx="17.50" cy="15.50" rx="2.00" ry="1.60" fill="#fff" fill-opacity="0.4" transform="rotate(0 17.50 15.50)"/>
<ellipse cx="18.80" cy="9.00" rx="2.20" ry="1.60" fill="#fff" fill-opacity="0.4" transform="rotate(0 18.80 9.00)"/>
</g>
</svg>
<svg x="576.90" y="282.70" width="29.10" height="30.90" viewBox="0 0 29.10 30.90" overflow="hidden">
<rect width="29.10" height="30.90" fill="#5a5a5a"/>
<rect width="29.10" height="30.90" fill="url(#tilegrad)"/>
<path d="M14.55 1.85 C19.21 2.47 20.95 10.51 23.28 16.07 C26.77 22.25 28.23 27.81 28.23 32.90 L0.87 32.90 C0.87 27.81 2.33 22.25 5.82 16.07 C8.15 10.51 9.89 2.47 14.55 1.85 Z" fill="#0e0e0e" filter="url(#b1)"/>
<ellipse cx="14.55" cy="28.43" rx="8.73" ry="6.18" fill="#3a3a3a" opacity="0.55" filter="url(#b1)"/>
<ellipse cx="4.07" cy="14.52" rx="2.04" ry="2.63" fill="#d4d4d4" transform="rotate(-30 4.07 14.52)" filter="url(#b05)"/>
<ellipse cx="25.03" cy="14.52" rx="2.04" ry="2.63" fill="#d4d4d4" transform="rotate(30 25.03 14.52)" filter="url(#b05)"/>
<rect width="29.10" height="30.90" fill="#fff" filter="url(#gn2)" opacity="0.22"/>
<g filter="url(#heat)">
<ellipse cx="14.20" cy="7.00" rx="4.00" ry="1.90" fill="#fff" fill-opacity="1" transform="rotate(8 14.20 7.00)"/>
<ellipse cx="12.00" cy="8.60" rx="5.40" ry="3.20" fill="#fff" fill-opacity="0.6" transform="rotate(-10 12.00 8.60)"/>
<ellipse cx="18.60" cy="8.20" rx="4.00" ry="2.60" fill="#fff" fill-opacity="0.55" transform="rotate(25 18.60 8.20)"/>
<ellipse cx="22.20" cy="11.60" rx="2.60" ry="2.20" fill="#fff" fill-opacity="0.42" transform="rotate(0 22.20 11.60)"/>
<ellipse cx="9.50" cy="11.00" rx="2.00" ry="2.00" fill="#fff" fill-opacity="0.4" transform="rotate(0 9.50 11.00)"/>
</g>
</svg>
<svg x="607.60" y="282.70" width="29.10" height="30.90" viewBox="0 0 29.10 30.90" overflow="hidden">
<rect width="29.10" height="30.90" fill="#5a5a5a"/>
<rect width="29.10" height="30.90" fill="url(#tilegrad)"/>
<path d="M14.55 1.85 C19.21 2.47 20.95 10.51 23.28 16.07 C26.77 22.25 28.23 27.81 28.23 32.90 L0.87 32.90 C0.87 27.81 2.33 22.25 5.82 16.07 C8.15 10.51 9.89 2.47 14.55 1.85 Z" fill="#0e0e0e" filter="url(#b1)"/>
<ellipse cx="14.55" cy="28.43" rx="8.73" ry="6.18" fill="#3a3a3a" opacity="0.55" filter="url(#b1)"/>
<ellipse cx="4.07" cy="14.52" rx="2.04" ry="2.63" fill="#d4d4d4" transform="rotate(-30 4.07 14.52)" filter="url(#b05)"/>
<ellipse cx="25.03" cy="14.52" rx="2.04" ry="2.63" fill="#d4d4d4" transform="rotate(30 25.03 14.52)" filter="url(#b05)"/>
<rect width="29.10" height="30.90" fill="#fff" filter="url(#gn0)" opacity="0.22"/>
<g filter="url(#heat)">
<ellipse cx="16.70" cy="7.60" rx="3.20" ry="2.60" fill="#fff" fill-opacity="1" transform="rotate(0 16.70 7.60)"/>
<ellipse cx="15.60" cy="9.20" rx="4.60" ry="5.00" fill="#fff" fill-opacity="0.6" transform="rotate(25 15.60 9.20)"/>
<ellipse cx="13.40" cy="13.40" rx="2.40" ry="2.20" fill="#fff" fill-opacity="0.55" transform="rotate(0 13.40 13.40)"/>
</g>
</svg>
<svg x="638.50" y="282.70" width="29.10" height="30.90" viewBox="0 0 29.10 30.90" overflow="hidden">
<rect width="29.10" height="30.90" fill="#5a5a5a"/>
<rect width="29.10" height="30.90" fill="url(#tilegrad)"/>
<path d="M14.55 1.85 C19.21 2.47 20.95 10.51 23.28 16.07 C26.77 22.25 28.23 27.81 28.23 32.90 L0.87 32.90 C0.87 27.81 2.33 22.25 5.82 16.07 C8.15 10.51 9.89 2.47 14.55 1.85 Z" fill="#0e0e0e" filter="url(#b1)"/>
<ellipse cx="14.55" cy="28.43" rx="8.73" ry="6.18" fill="#3a3a3a" opacity="0.55" filter="url(#b1)"/>
<ellipse cx="4.07" cy="14.52" rx="2.04" ry="2.63" fill="#d4d4d4" transform="rotate(-30 4.07 14.52)" filter="url(#b05)"/>
<ellipse cx="25.03" cy="14.52" rx="2.04" ry="2.63" fill="#d4d4d4" transform="rotate(30 25.03 14.52)" filter="url(#b05)"/>
<rect width="29.10" height="30.90" fill="#fff" filter="url(#gn1)" opacity="0.22"/>
<g filter="url(#heat)">
<ellipse cx="20.80" cy="9.20" rx="2.80" ry="2.80" fill="#fff" fill-opacity="0.5" transform="rotate(0 20.80 9.20)"/>
<ellipse cx="21.00" cy="9.20" rx="1.30" ry="1.40" fill="#fff" fill-opacity="0.9" transform="rotate(0 21.00 9.20)"/>
<ellipse cx="17.50" cy="12.60" rx="1.00" ry="1.00" fill="#fff" fill-opacity="0.3" transform="rotate(0 17.50 12.60)"/>
</g>
</svg>
<text x="559.40" y="216.90" font-size="8.2" text-anchor="start" fill="#1a1a1a" stroke="#1a1a1a" stroke-width="0.22" font-weight="normal" transform="rotate(-45 559.40 216.90)">Ctrl</text>
<text x="592.00" y="216.90" font-size="8.2" text-anchor="start" fill="#1a1a1a" stroke="#1a1a1a" stroke-width="0.22" font-weight="normal" transform="rotate(-45 592.00 216.90)">IR</text>
<text x="619.80" y="216.90" font-size="8.2" text-anchor="start" fill="#1a1a1a" stroke="#1a1a1a" stroke-width="0.22" font-weight="normal" transform="rotate(-45 619.80 216.90)">αPD-1</text>
<text x="654.20" y="216.90" font-size="8.2" text-anchor="start" fill="#1a1a1a" stroke="#1a1a1a" stroke-width="0.22" font-weight="normal" transform="rotate(-45 654.20 216.90)">PPD</text>
<text x="552.60" y="279.60" font-size="8.2" text-anchor="start" fill="#1a1a1a" stroke="#1a1a1a" stroke-width="0.22" font-weight="normal" transform="rotate(-45 552.60 279.60)">αPD-1+</text>
<text x="566.60" y="280.60" font-size="8.2" text-anchor="start" fill="#1a1a1a" stroke="#1a1a1a" stroke-width="0.22" font-weight="normal" transform="rotate(-45 566.60 280.60)">IR</text>
<text x="590.00" y="280.20" font-size="8.2" text-anchor="start" fill="#1a1a1a" stroke="#1a1a1a" stroke-width="0.22" font-weight="normal" transform="rotate(-45 590.00 280.20)">PPD+IR</text>
<text x="617.60" y="273.60" font-size="8.2" text-anchor="start" fill="#1a1a1a" stroke="#1a1a1a" stroke-width="0.22" font-weight="normal" transform="rotate(-45 617.60 273.60)">PPD+</text>
<text x="623.60" y="281.60" font-size="8.2" text-anchor="start" fill="#1a1a1a" stroke="#1a1a1a" stroke-width="0.22" font-weight="normal" transform="rotate(-45 623.60 281.60)">αPD-1</text>
<text x="650.60" y="271.20" font-size="8.2" text-anchor="start" fill="#1a1a1a" stroke="#1a1a1a" stroke-width="0.22" font-weight="normal" transform="rotate(-45 650.60 271.20)">PPD+</text>
<text x="653.00" y="282.60" font-size="8.2" text-anchor="start" fill="#1a1a1a" stroke="#1a1a1a" stroke-width="0.22" font-weight="normal" transform="rotate(-45 653.00 282.60)">αPD-1+IR</text>
<rect x="547.20" y="317.10" width="118.70" height="5.00" fill="url(#rainbow)"/>
<line x1="549.15" y1="322.10" x2="549.15" y2="323.30" stroke="#999" stroke-width="0.5"/>
<line x1="555.63" y1="322.10" x2="555.63" y2="323.30" stroke="#999" stroke-width="0.5"/>
<line x1="562.12" y1="322.10" x2="562.12" y2="323.90" stroke="#444" stroke-width="0.5"/>
<line x1="568.60" y1="322.10" x2="568.60" y2="323.30" stroke="#999" stroke-width="0.5"/>
<line x1="575.09" y1="322.10" x2="575.09" y2="323.30" stroke="#999" stroke-width="0.5"/>
<line x1="581.58" y1="322.10" x2="581.58" y2="323.30" stroke="#999" stroke-width="0.5"/>
<line x1="588.06" y1="322.10" x2="588.06" y2="323.90" stroke="#444" stroke-width="0.5"/>
<line x1="594.55" y1="322.10" x2="594.55" y2="323.30" stroke="#999" stroke-width="0.5"/>
<line x1="601.04" y1="322.10" x2="601.04" y2="323.30" stroke="#999" stroke-width="0.5"/>
<line x1="607.52" y1="322.10" x2="607.52" y2="323.30" stroke="#999" stroke-width="0.5"/>
<line x1="614.01" y1="322.10" x2="614.01" y2="323.90" stroke="#444" stroke-width="0.5"/>
<line x1="620.50" y1="322.10" x2="620.50" y2="323.30" stroke="#999" stroke-width="0.5"/>
<line x1="626.98" y1="322.10" x2="626.98" y2="323.30" stroke="#999" stroke-width="0.5"/>
<line x1="633.47" y1="322.10" x2="633.47" y2="323.30" stroke="#999" stroke-width="0.5"/>
<line x1="639.95" y1="322.10" x2="639.95" y2="323.90" stroke="#444" stroke-width="0.5"/>
<line x1="646.44" y1="322.10" x2="646.44" y2="323.30" stroke="#999" stroke-width="0.5"/>
<line x1="652.93" y1="322.10" x2="652.93" y2="323.30" stroke="#999" stroke-width="0.5"/>
<line x1="659.41" y1="322.10" x2="659.41" y2="323.30" stroke="#999" stroke-width="0.5"/>
<line x1="665.90" y1="322.10" x2="665.90" y2="323.90" stroke="#444" stroke-width="0.5"/>
<text x="562.12" y="332.70" font-size="7.9" text-anchor="middle" fill="#1a1a1a" stroke="#1a1a1a" stroke-width="0.22" font-weight="normal">0.2</text>
<text x="588.06" y="332.70" font-size="7.9" text-anchor="middle" fill="#1a1a1a" stroke="#1a1a1a" stroke-width="0.22" font-weight="normal">0.4</text>
<text x="614.01" y="332.70" font-size="7.9" text-anchor="middle" fill="#1a1a1a" stroke="#1a1a1a" stroke-width="0.22" font-weight="normal">0.6</text>
<text x="639.95" y="332.70" font-size="7.9" text-anchor="middle" fill="#1a1a1a" stroke="#1a1a1a" stroke-width="0.22" font-weight="normal">0.8</text>
<text x="665.90" y="332.70" font-size="7.9" text-anchor="middle" fill="#1a1a1a" stroke="#1a1a1a" stroke-width="0.22" font-weight="normal">1.0</text>
<text x="667.50" y="322.70" font-size="8.3" fill="#1a1a1a">×10<tspan font-size="4.90" dy="-3.2">7</tspan></text>
<text x="605.40" y="341.60" font-size="8.25" text-anchor="middle" fill="#1a1a1a" stroke="#1a1a1a" stroke-width="0.22" font-weight="normal">CT-2A</text>
<text x="0.60" y="378.80" font-size="16.5" text-anchor="start" fill="#111" stroke="#111" stroke-width="0" font-weight="bold">h</text>
<line x1="57.40" y1="399.30" x2="57.40" y2="502.40" stroke="#555" stroke-width="0.8"/>
<line x1="57.00" y1="502.00" x2="174.60" y2="502.00" stroke="#555" stroke-width="0.8"/>
<line x1="53.40" y1="502.00" x2="57.40" y2="502.00" stroke="#555" stroke-width="0.8"/>
<text x="52.80" y="504.90" font-size="8.3" text-anchor="end" fill="#1a1a1a" stroke="#1a1a1a" stroke-width="0.22" font-weight="normal">0</text>
<line x1="53.40" y1="455.50" x2="57.40" y2="455.50" stroke="#555" stroke-width="0.8"/>
<text x="52.80" y="458.40" font-size="8.3" text-anchor="end" fill="#1a1a1a" stroke="#1a1a1a" stroke-width="0.22" font-weight="normal">50</text>
<line x1="53.40" y1="409.00" x2="57.40" y2="409.00" stroke="#555" stroke-width="0.8"/>
<text x="52.80" y="411.90" font-size="8.3" text-anchor="end" fill="#1a1a1a" stroke="#1a1a1a" stroke-width="0.22" font-weight="normal">100</text>
<line x1="57.40" y1="502.00" x2="57.40" y2="505.60" stroke="#555" stroke-width="0.8"/>
<text x="57.40" y="513.00" font-size="8.3" text-anchor="middle" fill="#1a1a1a" stroke="#1a1a1a" stroke-width="0.22" font-weight="normal">0</text>
<line x1="86.60" y1="502.00" x2="86.60" y2="505.60" stroke="#555" stroke-width="0.8"/>
<text x="86.60" y="513.00" font-size="8.3" text-anchor="middle" fill="#1a1a1a" stroke="#1a1a1a" stroke-width="0.22" font-weight="normal">20</text>
<line x1="115.80" y1="502.00" x2="115.80" y2="505.60" stroke="#555" stroke-width="0.8"/>
<text x="115.80" y="513.00" font-size="8.3" text-anchor="middle" fill="#1a1a1a" stroke="#1a1a1a" stroke-width="0.22" font-weight="normal">40</text>
<line x1="145.00" y1="502.00" x2="145.00" y2="505.60" stroke="#555" stroke-width="0.8"/>
<text x="145.00" y="513.00" font-size="8.3" text-anchor="middle" fill="#1a1a1a" stroke="#1a1a1a" stroke-width="0.22" font-weight="normal">60</text>
<line x1="174.20" y1="502.00" x2="174.20" y2="505.60" stroke="#555" stroke-width="0.8"/>
<text x="174.20" y="513.00" font-size="8.3" text-anchor="middle" fill="#1a1a1a" stroke="#1a1a1a" stroke-width="0.22" font-weight="normal">80</text>
<text x="115.50" y="521.60" font-size="8.3" text-anchor="middle" fill="#1a1a1a" stroke="#1a1a1a" stroke-width="0.22" font-weight="normal">Days</text>
<text x="40.30" y="464.00" font-size="8.2" text-anchor="middle" fill="#1a1a1a" stroke="#1a1a1a" stroke-width="0.22" font-weight="normal" transform="rotate(-90 40.30 464.00)">% of survival</text>
<path d="M57.40 409.00 L96.82 409.00 L96.82 427.60 L105.58 427.60 L105.58 446.20 L118.72 446.20 L118.72 464.80 L128.94 464.80 L128.94 483.40 L145.00 483.40" stroke="#f0b030" stroke-width="0.85" fill="none" stroke-linejoin="miter"/>
<path d="M57.40 409.00 L93.90 409.00 L93.90 427.60 L96.24 427.60 L96.24 446.20 L103.24 446.20 L103.24 464.80 L109.23 464.80 L109.23 483.40 L117.26 483.40 L117.26 502.00" stroke="#8a4a2a" stroke-width="0.85" fill="none" stroke-linejoin="miter"/>
<path d="M57.40 409.00 L93.32 409.00 L93.32 427.60 L96.82 427.60 L96.82 446.20 L100.62 446.20 L100.62 464.80 L108.50 464.80 L108.50 483.40 L114.34 483.40 L114.34 502.00" stroke="#66c8c0" stroke-width="0.85" fill="none" stroke-linejoin="miter"/>
<path d="M57.40 409.00 L92.44 409.00 L92.44 427.60 L95.36 427.60 L95.36 446.20 L101.20 446.20 L101.20 464.80 L102.66 464.80 L102.66 483.40 L112.30 483.40 L112.30 502.00" stroke="#ff40ff" stroke-width="0.85" fill="none" stroke-linejoin="miter"/>
<path d="M57.40 409.00 L85.14 409.00 L85.14 427.60 L92.44 427.60 L92.44 446.20 L93.90 446.20 L93.90 464.80 L101.20 464.80 L101.20 483.40 L104.12 483.40 L104.12 502.00" stroke="#3535ff" stroke-width="0.85" fill="none" stroke-linejoin="miter"/>
<path d="M57.40 409.00 L83.68 409.00 L83.68 427.60 L90.40 427.60 L90.40 446.20 L91.56 446.20 L91.56 464.80 L97.40 464.80 L97.40 483.40 L100.62 483.40 L100.62 502.00" stroke="#33dd22" stroke-width="0.85" fill="none" stroke-linejoin="miter"/>
<path d="M57.40 409.00 L80.76 409.00 L80.76 427.60 L89.52 427.60 L89.52 446.20 L90.98 446.20 L90.98 464.80 L96.24 464.80 L96.24 483.40 L99.16 483.40 L99.16 502.00" stroke="#ff3030" stroke-width="0.85" fill="none" stroke-linejoin="miter"/>
<path d="M57.40 409.00 L80.61 409.00 L80.61 446.20 L83.39 446.20 L83.39 464.80 L90.54 464.80 L90.54 483.40 L97.70 483.40 L97.70 502.00" stroke="#2a2a2a" stroke-width="0.85" fill="none" stroke-linejoin="miter"/>
<line x1="57.40" y1="409.00" x2="80.61" y2="409.00" stroke="#727272" stroke-width="1.9"/>
<line x1="96.82" y1="426.00" x2="96.82" y2="427.80" stroke="#111" stroke-width="0.7"/>
<line x1="105.58" y1="444.60" x2="105.58" y2="446.40" stroke="#111" stroke-width="0.7"/>
<line x1="118.72" y1="463.20" x2="118.72" y2="465.00" stroke="#111" stroke-width="0.7"/>
<line x1="128.94" y1="481.80" x2="128.94" y2="483.60" stroke="#111" stroke-width="0.7"/>
<line x1="145.00" y1="481.80" x2="145.00" y2="483.60" stroke="#111" stroke-width="0.7"/>
<line x1="93.90" y1="426.00" x2="93.90" y2="427.80" stroke="#111" stroke-width="0.7"/>
<line x1="96.24" y1="444.60" x2="96.24" y2="446.40" stroke="#111" stroke-width="0.7"/>
<line x1="103.24" y1="463.20" x2="103.24" y2="465.00" stroke="#111" stroke-width="0.7"/>
<line x1="109.23" y1="481.80" x2="109.23" y2="483.60" stroke="#111" stroke-width="0.7"/>
<line x1="117.26" y1="500.40" x2="117.26" y2="502.20" stroke="#111" stroke-width="0.7"/>
<line x1="93.32" y1="426.00" x2="93.32" y2="427.80" stroke="#111" stroke-width="0.7"/>
<line x1="96.82" y1="444.60" x2="96.82" y2="446.40" stroke="#111" stroke-width="0.7"/>
<line x1="100.62" y1="463.20" x2="100.62" y2="465.00" stroke="#111" stroke-width="0.7"/>
<line x1="108.50" y1="481.80" x2="108.50" y2="483.60" stroke="#111" stroke-width="0.7"/>
<line x1="114.34" y1="500.40" x2="114.34" y2="502.20" stroke="#111" stroke-width="0.7"/>
<line x1="92.44" y1="426.00" x2="92.44" y2="427.80" stroke="#111" stroke-width="0.7"/>
<line x1="95.36" y1="444.60" x2="95.36" y2="446.40" stroke="#111" stroke-width="0.7"/>
<line x1="101.20" y1="463.20" x2="101.20" y2="465.00" stroke="#111" stroke-width="0.7"/>
<line x1="102.66" y1="481.80" x2="102.66" y2="483.60" stroke="#111" stroke-width="0.7"/>
<line x1="112.30" y1="500.40" x2="112.30" y2="502.20" stroke="#111" stroke-width="0.7"/>
<line x1="85.14" y1="426.00" x2="85.14" y2="427.80" stroke="#111" stroke-width="0.7"/>
<line x1="92.44" y1="444.60" x2="92.44" y2="446.40" stroke="#111" stroke-width="0.7"/>
<line x1="93.90" y1="463.20" x2="93.90" y2="465.00" stroke="#111" stroke-width="0.7"/>
<line x1="101.20" y1="481.80" x2="101.20" y2="483.60" stroke="#111" stroke-width="0.7"/>
<line x1="104.12" y1="500.40" x2="104.12" y2="502.20" stroke="#111" stroke-width="0.7"/>
<line x1="83.68" y1="426.00" x2="83.68" y2="427.80" stroke="#111" stroke-width="0.7"/>
<line x1="90.40" y1="444.60" x2="90.40" y2="446.40" stroke="#111" stroke-width="0.7"/>
<line x1="91.56" y1="463.20" x2="91.56" y2="465.00" stroke="#111" stroke-width="0.7"/>
<line x1="97.40" y1="481.80" x2="97.40" y2="483.60" stroke="#111" stroke-width="0.7"/>
<line x1="100.62" y1="500.40" x2="100.62" y2="502.20" stroke="#111" stroke-width="0.7"/>
<line x1="80.76" y1="426.00" x2="80.76" y2="427.80" stroke="#111" stroke-width="0.7"/>
<line x1="89.52" y1="444.60" x2="89.52" y2="446.40" stroke="#111" stroke-width="0.7"/>
<line x1="90.98" y1="463.20" x2="90.98" y2="465.00" stroke="#111" stroke-width="0.7"/>
<line x1="96.24" y1="481.80" x2="96.24" y2="483.60" stroke="#111" stroke-width="0.7"/>
<line x1="99.16" y1="500.40" x2="99.16" y2="502.20" stroke="#111" stroke-width="0.7"/>
<line x1="80.61" y1="444.60" x2="80.61" y2="446.40" stroke="#111" stroke-width="0.7"/>
<line x1="83.39" y1="463.20" x2="83.39" y2="465.00" stroke="#111" stroke-width="0.7"/>
<line x1="90.54" y1="481.80" x2="90.54" y2="483.60" stroke="#111" stroke-width="0.7"/>
<line x1="97.70" y1="500.40" x2="97.70" y2="502.20" stroke="#111" stroke-width="0.7"/>
<line x1="131.10" y1="386.80" x2="142.50" y2="386.80" stroke="#1a1a1a" stroke-width="0.8"/>
<line x1="136.80" y1="385.20" x2="136.80" y2="387.10" stroke="#111" stroke-width="0.7"/>
<text x="143.90" y="389.30" font-size="8.25" text-anchor="start" fill="#1a1a1a" stroke="#1a1a1a" stroke-width="0.22" font-weight="normal">Ctrl</text>
<line x1="131.10" y1="396.60" x2="142.50" y2="396.60" stroke="#ff3030" stroke-width="0.8"/>
<line x1="136.80" y1="395.00" x2="136.80" y2="396.90" stroke="#111" stroke-width="0.7"/>
<text x="143.90" y="398.90" font-size="8.25" text-anchor="start" fill="#1a1a1a" stroke="#1a1a1a" stroke-width="0.22" font-weight="normal">IR</text>
<line x1="131.10" y1="406.50" x2="142.50" y2="406.50" stroke="#33dd22" stroke-width="0.8"/>
<line x1="136.80" y1="404.90" x2="136.80" y2="406.80" stroke="#111" stroke-width="0.7"/>
<text x="143.90" y="408.80" font-size="8.25" text-anchor="start" fill="#1a1a1a" stroke="#1a1a1a" stroke-width="0.22" font-weight="normal">αPD-1</text>
<line x1="131.10" y1="416.00" x2="142.50" y2="416.00" stroke="#3535ff" stroke-width="0.8"/>
<line x1="136.80" y1="414.40" x2="136.80" y2="416.30" stroke="#111" stroke-width="0.7"/>
<text x="143.90" y="418.50" font-size="8.25" text-anchor="start" fill="#1a1a1a" stroke="#1a1a1a" stroke-width="0.22" font-weight="normal">PPD</text>
<line x1="131.10" y1="426.00" x2="142.50" y2="426.00" stroke="#ff40ff" stroke-width="0.8"/>
<line x1="136.80" y1="424.40" x2="136.80" y2="426.30" stroke="#111" stroke-width="0.7"/>
<text x="143.90" y="428.50" font-size="8.25" text-anchor="start" fill="#1a1a1a" stroke="#1a1a1a" stroke-width="0.22" font-weight="normal">αPD-1+IR</text>
<line x1="131.10" y1="435.70" x2="142.50" y2="435.70" stroke="#66c8c0" stroke-width="0.8"/>
<line x1="136.80" y1="434.10" x2="136.80" y2="436.00" stroke="#111" stroke-width="0.7"/>
<text x="143.90" y="438.00" font-size="8.25" text-anchor="start" fill="#1a1a1a" stroke="#1a1a1a" stroke-width="0.22" font-weight="normal">PPD+IR</text>
<line x1="131.10" y1="445.60" x2="142.50" y2="445.60" stroke="#8a4a2a" stroke-width="0.8"/>
<line x1="136.80" y1="444.00" x2="136.80" y2="445.90" stroke="#111" stroke-width="0.7"/>
<text x="143.90" y="448.10" font-size="8.25" text-anchor="start" fill="#1a1a1a" stroke="#1a1a1a" stroke-width="0.22" font-weight="normal">PPD+αPD-1</text>
<line x1="131.10" y1="455.20" x2="142.50" y2="455.20" stroke="#f0b030" stroke-width="0.8"/>
<line x1="136.80" y1="453.60" x2="136.80" y2="455.50" stroke="#111" stroke-width="0.7"/>
<text x="143.90" y="457.70" font-size="8.25" text-anchor="start" fill="#1a1a1a" stroke="#1a1a1a" stroke-width="0.22" font-weight="normal">PPD+αPD-1+IR</text>
<path d="M182.00 386.80 L184.90 386.80 L184.90 426.50 L182.00 426.50" stroke="#222" stroke-width="0.6" fill="none"/>
<text x="188.30" y="407.00" font-size="5.8" text-anchor="middle" fill="#1a1a1a" transform="rotate(90 188.30 407.00)" dy="2">p = 0.0388</text>
<path d="M191.60 386.80 L194.50 386.80 L194.50 435.70 L191.60 435.70" stroke="#222" stroke-width="0.6" fill="none"/>
<text x="197.70" y="411.00" font-size="5.8" text-anchor="middle" fill="#1a1a1a" transform="rotate(90 197.70 411.00)" dy="2">p = 0.0200</text>
<path d="M201.10 386.80 L203.60 386.80 L203.60 445.30 L201.10 445.30" stroke="#222" stroke-width="0.6" fill="none"/>
<text x="206.90" y="415.80" font-size="5.8" text-anchor="middle" fill="#1a1a1a" transform="rotate(90 206.90 415.80)" dy="2">p = 0.0200</text>
<path d="M209.70 386.80 L212.60 386.80 L212.60 455.20 L209.70 455.20" stroke="#222" stroke-width="0.6" fill="none"/>
<text x="216.40" y="420.40" font-size="5.8" text-anchor="middle" fill="#1a1a1a" transform="rotate(90 216.40 420.40)" dy="2">p = 0.0062</text>
<text x="245.20" y="378.80" font-size="16.5" text-anchor="start" fill="#111" stroke="#111" stroke-width="0" font-weight="bold">i</text>
<svg x="263.10" y="406.60" width="55.30" height="41.00" viewBox="0 0 55.30 41.00" overflow="hidden">
<rect width="55.30" height="41.00" fill="#000"/>
<rect x="-1" y="-1" width="57.30" height="43.00" filter="url(#cells0)" fill="#fff"/>
<rect x="-1" y="-1" width="57.30" height="43.00" filter="url(#redc0)" fill="#fff"/>
<rect x="0.3" y="0.3" width="54.70" height="40.40" fill="none" stroke="#05051a" stroke-width="0.8"/>
<rect x="45.90" y="37.10" width="6.3" height="1.7" fill="#dcdcec"/>
</svg>
<svg x="320.20" y="406.60" width="55.30" height="41.00" viewBox="0 0 55.30 41.00" overflow="hidden">
<rect width="55.30" height="41.00" fill="#000"/>
<rect x="-1" y="-1" width="57.30" height="43.00" filter="url(#cells1)" fill="#fff"/>
<rect x="-1" y="-1" width="57.30" height="43.00" filter="url(#redc1)" fill="#fff"/>
<rect x="0.3" y="0.3" width="54.70" height="40.40" fill="none" stroke="#05051a" stroke-width="0.8"/>
<rect x="45.90" y="37.10" width="6.3" height="1.7" fill="#dcdcec"/>
</svg>
<svg x="377.10" y="406.60" width="55.30" height="41.00" viewBox="0 0 55.30 41.00" overflow="hidden">
<rect width="55.30" height="41.00" fill="#000"/>
<rect x="-1" y="-1" width="57.30" height="43.00" filter="url(#cells2)" fill="#fff"/>
<rect x="-1" y="-1" width="57.30" height="43.00" filter="url(#redc2)" fill="#fff"/>
<rect x="0.3" y="0.3" width="54.70" height="40.40" fill="none" stroke="#05051a" stroke-width="0.8"/>
<rect x="45.90" y="37.10" width="6.3" height="1.7" fill="#dcdcec"/>
</svg>
<svg x="434.00" y="406.60" width="55.30" height="41.00" viewBox="0 0 55.30 41.00" overflow="hidden">
<rect width="55.30" height="41.00" fill="#000"/>
<rect x="-1" y="-1" width="57.30" height="43.00" filter="url(#cells3)" fill="#fff"/>
<rect x="-1" y="-1" width="57.30" height="43.00" filter="url(#redc3)" fill="#fff"/>
<rect x="0.3" y="0.3" width="54.70" height="40.40" fill="none" stroke="#05051a" stroke-width="0.8"/>
<rect x="45.90" y="37.10" width="6.3" height="1.7" fill="#dcdcec"/>
</svg>
<svg x="263.10" y="467.60" width="55.30" height="41.00" viewBox="0 0 55.30 41.00" overflow="hidden">
<rect width="55.30" height="41.00" fill="#000"/>
<rect x="-1" y="-1" width="57.30" height="43.00" filter="url(#cells4)" fill="#fff"/>
<rect x="-1" y="-1" width="57.30" height="43.00" filter="url(#redc4)" fill="#fff"/>
<rect x="0.3" y="0.3" width="54.70" height="40.40" fill="none" stroke="#05051a" stroke-width="0.8"/>
<rect x="45.90" y="37.10" width="6.3" height="1.7" fill="#dcdcec"/>
</svg>
<svg x="320.20" y="467.60" width="55.30" height="41.00" viewBox="0 0 55.30 41.00" overflow="hidden">
<rect width="55.30" height="41.00" fill="#000"/>
<rect x="-1" y="-1" width="57.30" height="43.00" filter="url(#cells5)" fill="#fff"/>
<rect x="-1" y="-1" width="57.30" height="43.00" filter="url(#redc5)" fill="#fff"/>
<rect x="0.3" y="0.3" width="54.70" height="40.40" fill="none" stroke="#05051a" stroke-width="0.8"/>
<rect x="45.90" y="37.10" width="6.3" height="1.7" fill="#dcdcec"/>
</svg>
<svg x="377.10" y="467.60" width="55.30" height="41.00" viewBox="0 0 55.30 41.00" overflow="hidden">
<rect width="55.30" height="41.00" fill="#000"/>
<rect x="-1" y="-1" width="57.30" height="43.00" filter="url(#cells6)" fill="#fff"/>
<rect x="-1" y="-1" width="57.30" height="43.00" filter="url(#redc6)" fill="#fff"/>
<rect x="0.3" y="0.3" width="54.70" height="40.40" fill="none" stroke="#05051a" stroke-width="0.8"/>
<rect x="45.90" y="37.10" width="6.3" height="1.7" fill="#dcdcec"/>
</svg>
<svg x="434.00" y="467.60" width="55.30" height="41.00" viewBox="0 0 55.30 41.00" overflow="hidden">
<rect width="55.30" height="41.00" fill="#000"/>
<rect x="-1" y="-1" width="57.30" height="43.00" filter="url(#cells7)" fill="#fff"/>
<rect x="-1" y="-1" width="57.30" height="43.00" filter="url(#redc7)" fill="#fff"/>
<rect x="0.3" y="0.3" width="54.70" height="40.40" fill="none" stroke="#05051a" stroke-width="0.8"/>
<rect x="45.90" y="37.10" width="6.3" height="1.7" fill="#dcdcec"/>
</svg>
<text x="290.75" y="404.70" font-size="8.2" text-anchor="middle" fill="#1a1a1a" stroke="#1a1a1a" stroke-width="0.22" font-weight="normal">Ctrl</text>
<text x="347.85" y="404.70" font-size="8.2" text-anchor="middle" fill="#1a1a1a" stroke="#1a1a1a" stroke-width="0.22" font-weight="normal">IR</text>
<text x="404.75" y="404.70" font-size="8.2" text-anchor="middle" fill="#1a1a1a" stroke="#1a1a1a" stroke-width="0.22" font-weight="normal">αPD-1</text>
<text x="461.65" y="404.70" font-size="8.2" text-anchor="middle" fill="#1a1a1a" stroke="#1a1a1a" stroke-width="0.22" font-weight="normal">PPD</text>
<text x="290.75" y="464.40" font-size="8.2" text-anchor="middle" fill="#1a1a1a" stroke="#1a1a1a" stroke-width="0.22" font-weight="normal">αPD-1+IR</text>
<text x="347.85" y="464.40" font-size="8.2" text-anchor="middle" fill="#1a1a1a" stroke="#1a1a1a" stroke-width="0.22" font-weight="normal">PPD+IR</text>
<text x="404.75" y="455.80" font-size="8.2" text-anchor="middle" fill="#1a1a1a" stroke="#1a1a1a" stroke-width="0.22" font-weight="normal">PPD</text>
<text x="404.75" y="464.70" font-size="8.2" text-anchor="middle" fill="#1a1a1a" stroke="#1a1a1a" stroke-width="0.22" font-weight="normal">+αPD-1</text>
<text x="461.65" y="455.80" font-size="8.2" text-anchor="middle" fill="#1a1a1a" stroke="#1a1a1a" stroke-width="0.22" font-weight="normal">PPD</text>
<text x="461.65" y="464.70" font-size="8.2" text-anchor="middle" fill="#1a1a1a" stroke="#1a1a1a" stroke-width="0.22" font-weight="normal">+αPD-1+IR</text>
<text x="261.60" y="427.60" font-size="8.0" text-anchor="middle" fill="#f03040" stroke="#f03040" stroke-width="0.22" font-weight="normal" transform="rotate(-90 261.60 427.60)">CD8α</text>
<text x="261.60" y="488.60" font-size="8.0" text-anchor="middle" fill="#f03040" stroke="#f03040" stroke-width="0.22" font-weight="normal" transform="rotate(-90 261.60 488.60)">CD8α</text>
<line x1="521.40" y1="386.20" x2="521.40" y2="483.60" stroke="#222" stroke-width="0.8"/>
<line x1="521.00" y1="483.20" x2="634.00" y2="483.20" stroke="#222" stroke-width="0.8"/>
<line x1="517.40" y1="483.20" x2="521.40" y2="483.20" stroke="#222" stroke-width="0.8"/>
<text x="516.80" y="486.10" font-size="8.2" text-anchor="end" fill="#1a1a1a" stroke="#1a1a1a" stroke-width="0.22" font-weight="normal">0</text>
<line x1="517.40" y1="463.85" x2="521.40" y2="463.85" stroke="#222" stroke-width="0.8"/>
<text x="516.80" y="466.75" font-size="8.2" text-anchor="end" fill="#1a1a1a" stroke="#1a1a1a" stroke-width="0.22" font-weight="normal">20</text>
<line x1="517.40" y1="444.50" x2="521.40" y2="444.50" stroke="#222" stroke-width="0.8"/>
<text x="516.80" y="447.40" font-size="8.2" text-anchor="end" fill="#1a1a1a" stroke="#1a1a1a" stroke-width="0.22" font-weight="normal">40</text>
<line x1="517.40" y1="425.15" x2="521.40" y2="425.15" stroke="#222" stroke-width="0.8"/>
<text x="516.80" y="428.05" font-size="8.2" text-anchor="end" fill="#1a1a1a" stroke="#1a1a1a" stroke-width="0.22" font-weight="normal">60</text>
<line x1="517.40" y1="405.80" x2="521.40" y2="405.80" stroke="#222" stroke-width="0.8"/>
<text x="516.80" y="408.70" font-size="8.2" text-anchor="end" fill="#1a1a1a" stroke="#1a1a1a" stroke-width="0.22" font-weight="normal">80</text>
<line x1="517.40" y1="386.45" x2="521.40" y2="386.45" stroke="#222" stroke-width="0.8"/>
<text x="516.80" y="389.35" font-size="8.2" text-anchor="end" fill="#1a1a1a" stroke="#1a1a1a" stroke-width="0.22" font-weight="normal">100</text>
<text x="504.4" y="438.10" font-size="8.0" text-anchor="middle" fill="#1a1a1a" transform="rotate(-90 504.4 438.10)">% CD8<tspan font-size="5" dy="-3">+</tspan><tspan dy="3"> cells in tumor</tspan></text>
<rect x="527.00" y="467.72" width="8.2" height="15.48" fill="#fff" stroke="#111" stroke-width="1.25"/>
<line x1="531.10" y1="483.20" x2="531.10" y2="487.40" stroke="#222" stroke-width="0.8"/>
<line x1="531.10" y1="466.56" x2="531.10" y2="467.72" stroke="#111" stroke-width="0.7"/>
<line x1="529.30" y1="466.56" x2="532.90" y2="466.56" stroke="#111" stroke-width="0.7"/>
<circle cx="530.04" cy="469.19" r="1.0" fill="#111"/>
<circle cx="528.53" cy="469.77" r="1.0" fill="#111"/>
<circle cx="531.32" cy="467.32" r="1.0" fill="#111"/>
<circle cx="531.14" cy="468.17" r="1.0" fill="#111"/>
<circle cx="528.32" cy="467.11" r="1.0" fill="#111"/>
<circle cx="528.64" cy="467.99" r="1.0" fill="#111"/>
<circle cx="530.65" cy="468.14" r="1.0" fill="#111"/>
<circle cx="529.44" cy="466.93" r="1.0" fill="#111"/>
<circle cx="531.86" cy="469.88" r="1.0" fill="#111"/>
<circle cx="530.48" cy="466.98" r="1.0" fill="#111"/>
<rect x="540.17" y="460.46" width="8.2" height="22.74" fill="#fff" stroke="#ff3030" stroke-width="1.25"/>
<line x1="544.27" y1="483.20" x2="544.27" y2="487.40" stroke="#222" stroke-width="0.8"/>
<line x1="544.27" y1="458.72" x2="544.27" y2="460.46" stroke="#ff3030" stroke-width="0.7"/>
<line x1="542.47" y1="458.72" x2="546.07" y2="458.72" stroke="#ff3030" stroke-width="0.7"/>
<circle cx="547.13" cy="465.41" r="1.0" fill="#ff3030"/>
<circle cx="543.01" cy="461.95" r="1.0" fill="#ff3030"/>
<circle cx="542.14" cy="462.12" r="1.0" fill="#ff3030"/>
<circle cx="546.17" cy="461.98" r="1.0" fill="#ff3030"/>
<circle cx="542.35" cy="457.21" r="1.0" fill="#ff3030"/>
<circle cx="543.50" cy="458.63" r="1.0" fill="#ff3030"/>
<circle cx="544.56" cy="461.31" r="1.0" fill="#ff3030"/>
<circle cx="542.51" cy="460.82" r="1.0" fill="#ff3030"/>
<circle cx="545.35" cy="458.43" r="1.0" fill="#ff3030"/>
<circle cx="544.78" cy="461.46" r="1.0" fill="#ff3030"/>
<rect x="553.34" y="460.46" width="8.2" height="22.74" fill="#fff" stroke="#33dd22" stroke-width="1.25"/>
<line x1="557.44" y1="483.20" x2="557.44" y2="487.40" stroke="#222" stroke-width="0.8"/>
<line x1="557.44" y1="458.72" x2="557.44" y2="460.46" stroke="#33dd22" stroke-width="0.7"/>
<line x1="555.64" y1="458.72" x2="559.24" y2="458.72" stroke="#33dd22" stroke-width="0.7"/>
<circle cx="557.16" cy="459.03" r="1.0" fill="#33dd22"/>
<circle cx="558.63" cy="464.88" r="1.0" fill="#33dd22"/>
<circle cx="555.90" cy="457.62" r="1.0" fill="#33dd22"/>
<circle cx="559.69" cy="459.03" r="1.0" fill="#33dd22"/>
<circle cx="558.82" cy="458.74" r="1.0" fill="#33dd22"/>
<circle cx="555.15" cy="467.57" r="1.0" fill="#33dd22"/>
<circle cx="556.95" cy="460.53" r="1.0" fill="#33dd22"/>
<circle cx="557.37" cy="458.97" r="1.0" fill="#33dd22"/>
<circle cx="554.68" cy="458.28" r="1.0" fill="#33dd22"/>
<circle cx="557.88" cy="456.59" r="1.0" fill="#33dd22"/>
<rect x="566.51" y="459.01" width="8.2" height="24.19" fill="#fff" stroke="#2020ff" stroke-width="1.25"/>
<line x1="570.61" y1="483.20" x2="570.61" y2="487.40" stroke="#222" stroke-width="0.8"/>
<line x1="570.61" y1="457.56" x2="570.61" y2="459.01" stroke="#2020ff" stroke-width="0.7"/>
<line x1="568.81" y1="457.56" x2="572.41" y2="457.56" stroke="#2020ff" stroke-width="0.7"/>
<circle cx="572.86" cy="457.70" r="1.0" fill="#2020ff"/>
<circle cx="571.18" cy="462.10" r="1.0" fill="#2020ff"/>
<circle cx="571.09" cy="455.00" r="1.0" fill="#2020ff"/>
<circle cx="573.28" cy="460.14" r="1.0" fill="#2020ff"/>
<circle cx="570.45" cy="458.62" r="1.0" fill="#2020ff"/>
<circle cx="571.82" cy="458.35" r="1.0" fill="#2020ff"/>
<circle cx="571.49" cy="463.05" r="1.0" fill="#2020ff"/>
<circle cx="569.32" cy="458.84" r="1.0" fill="#2020ff"/>
<circle cx="569.92" cy="458.79" r="1.0" fill="#2020ff"/>
<circle cx="570.38" cy="458.61" r="1.0" fill="#2020ff"/>
<rect x="579.68" y="445.47" width="8.2" height="37.73" fill="#fff" stroke="#ff40ff" stroke-width="1.25"/>
<line x1="583.78" y1="483.20" x2="583.78" y2="487.40" stroke="#222" stroke-width="0.8"/>
<line x1="583.78" y1="442.56" x2="583.78" y2="445.47" stroke="#ff40ff" stroke-width="0.7"/>
<line x1="581.98" y1="442.56" x2="585.58" y2="442.56" stroke="#ff40ff" stroke-width="0.7"/>
<circle cx="581.79" cy="446.59" r="1.0" fill="#ff40ff"/>
<circle cx="585.39" cy="446.49" r="1.0" fill="#ff40ff"/>
<circle cx="581.56" cy="445.53" r="1.0" fill="#ff40ff"/>
<circle cx="586.01" cy="449.80" r="1.0" fill="#ff40ff"/>
<circle cx="581.26" cy="440.25" r="1.0" fill="#ff40ff"/>
<circle cx="586.08" cy="447.19" r="1.0" fill="#ff40ff"/>
<circle cx="585.70" cy="447.78" r="1.0" fill="#ff40ff"/>
<circle cx="583.27" cy="442.81" r="1.0" fill="#ff40ff"/>
<circle cx="582.93" cy="453.65" r="1.0" fill="#ff40ff"/>
<circle cx="581.69" cy="438.18" r="1.0" fill="#ff40ff"/>
<rect x="592.85" y="447.40" width="8.2" height="35.80" fill="#fff" stroke="#55b8b0" stroke-width="1.25"/>
<line x1="596.95" y1="483.20" x2="596.95" y2="487.40" stroke="#222" stroke-width="0.8"/>
<line x1="596.95" y1="444.50" x2="596.95" y2="447.40" stroke="#55b8b0" stroke-width="0.7"/>
<line x1="595.15" y1="444.50" x2="598.75" y2="444.50" stroke="#55b8b0" stroke-width="0.7"/>
<circle cx="595.01" cy="447.76" r="0.8" fill="#fff" stroke="#55b8b0" stroke-width="0.5"/>
<circle cx="596.86" cy="450.56" r="0.8" fill="#fff" stroke="#55b8b0" stroke-width="0.5"/>
<circle cx="597.48" cy="447.37" r="0.8" fill="#fff" stroke="#55b8b0" stroke-width="0.5"/>
<circle cx="596.46" cy="447.80" r="0.8" fill="#fff" stroke="#55b8b0" stroke-width="0.5"/>
<circle cx="596.17" cy="437.55" r="0.8" fill="#fff" stroke="#55b8b0" stroke-width="0.5"/>
<circle cx="598.09" cy="443.04" r="0.8" fill="#fff" stroke="#55b8b0" stroke-width="0.5"/>
<circle cx="597.04" cy="442.57" r="0.8" fill="#fff" stroke="#55b8b0" stroke-width="0.5"/>
<circle cx="594.27" cy="443.00" r="0.8" fill="#fff" stroke="#55b8b0" stroke-width="0.5"/>
<circle cx="599.35" cy="449.06" r="0.8" fill="#fff" stroke="#55b8b0" stroke-width="0.5"/>
<circle cx="598.74" cy="438.69" r="0.8" fill="#fff" stroke="#55b8b0" stroke-width="0.5"/>
<rect x="606.02" y="447.40" width="8.2" height="35.80" fill="#fff" stroke="#8a4a2a" stroke-width="1.25"/>
<line x1="610.12" y1="483.20" x2="610.12" y2="487.40" stroke="#222" stroke-width="0.8"/>
<line x1="610.12" y1="444.50" x2="610.12" y2="447.40" stroke="#8a4a2a" stroke-width="0.7"/>
<line x1="608.32" y1="444.50" x2="611.92" y2="444.50" stroke="#8a4a2a" stroke-width="0.7"/>
<circle cx="609.47" cy="445.76" r="0.8" fill="#fff" stroke="#8a4a2a" stroke-width="0.5"/>
<circle cx="610.93" cy="448.61" r="0.8" fill="#fff" stroke="#8a4a2a" stroke-width="0.5"/>
<circle cx="607.49" cy="450.12" r="0.8" fill="#fff" stroke="#8a4a2a" stroke-width="0.5"/>
<circle cx="608.09" cy="448.63" r="0.8" fill="#fff" stroke="#8a4a2a" stroke-width="0.5"/>
<circle cx="609.16" cy="447.49" r="0.8" fill="#fff" stroke="#8a4a2a" stroke-width="0.5"/>
<circle cx="608.03" cy="447.43" r="0.8" fill="#fff" stroke="#8a4a2a" stroke-width="0.5"/>
<circle cx="607.73" cy="446.75" r="0.8" fill="#fff" stroke="#8a4a2a" stroke-width="0.5"/>
<circle cx="612.37" cy="448.15" r="0.8" fill="#fff" stroke="#8a4a2a" stroke-width="0.5"/>
<circle cx="610.80" cy="449.38" r="0.8" fill="#fff" stroke="#8a4a2a" stroke-width="0.5"/>
<circle cx="609.20" cy="450.07" r="0.8" fill="#fff" stroke="#8a4a2a" stroke-width="0.5"/>
<rect x="619.19" y="417.89" width="8.2" height="65.31" fill="#fff" stroke="#f0c050" stroke-width="1.25"/>
<line x1="623.29" y1="483.20" x2="623.29" y2="487.40" stroke="#222" stroke-width="0.8"/>
<line x1="623.29" y1="415.57" x2="623.29" y2="417.89" stroke="#f0c050" stroke-width="0.7"/>
<line x1="621.49" y1="415.57" x2="625.09" y2="415.57" stroke="#f0c050" stroke-width="0.7"/>
<circle cx="622.47" cy="422.75" r="0.8" fill="#fff" stroke="#f0c050" stroke-width="0.5"/>
<circle cx="626.25" cy="422.62" r="0.8" fill="#fff" stroke="#f0c050" stroke-width="0.5"/>
<circle cx="623.09" cy="416.43" r="0.8" fill="#fff" stroke="#f0c050" stroke-width="0.5"/>
<circle cx="620.90" cy="418.04" r="0.8" fill="#fff" stroke="#f0c050" stroke-width="0.5"/>
<circle cx="622.35" cy="417.29" r="0.8" fill="#fff" stroke="#f0c050" stroke-width="0.5"/>
<circle cx="621.26" cy="424.41" r="0.8" fill="#fff" stroke="#f0c050" stroke-width="0.5"/>
<circle cx="620.43" cy="421.96" r="0.8" fill="#fff" stroke="#f0c050" stroke-width="0.5"/>
<circle cx="621.17" cy="416.60" r="0.8" fill="#fff" stroke="#f0c050" stroke-width="0.5"/>
<circle cx="623.55" cy="422.10" r="0.8" fill="#fff" stroke="#f0c050" stroke-width="0.5"/>
<circle cx="626.16" cy="418.62" r="0.8" fill="#fff" stroke="#f0c050" stroke-width="0.5"/>
<path d="M531.10 430.60 L531.10 428.40 L583.78 428.40 L583.78 430.60" stroke="#222" stroke-width="0.6" fill="none"/>
<text x="556.90" y="426.10" font-size="5.8" text-anchor="middle" fill="#1a1a1a" stroke="#1a1a1a" stroke-width="0.22" font-weight="normal">p &lt; 0.0001</text>
<path d="M531.10 420.70 L531.10 418.50 L596.95 418.50 L596.95 420.70" stroke="#222" stroke-width="0.6" fill="none"/>
<text x="564.00" y="415.90" font-size="5.8" text-anchor="middle" fill="#1a1a1a" stroke="#1a1a1a" stroke-width="0.22" font-weight="normal">p &lt; 0.0001</text>
<path d="M531.10 411.60 L531.10 409.40 L610.12 409.40 L610.12 411.60" stroke="#222" stroke-width="0.6" fill="none"/>
<text x="570.10" y="407.10" font-size="5.8" text-anchor="middle" fill="#1a1a1a" stroke="#1a1a1a" stroke-width="0.22" font-weight="normal">p &lt; 0.0001</text>
<path d="M531.10 402.00 L531.10 399.80 L623.29 399.80 L623.29 402.00" stroke="#222" stroke-width="0.6" fill="none"/>
<text x="577.00" y="397.20" font-size="5.8" text-anchor="middle" fill="#1a1a1a" stroke="#1a1a1a" stroke-width="0.22" font-weight="normal">p &lt; 0.0001</text>
<text x="523.40" y="494.50" font-size="8.2" text-anchor="end" fill="#1a1a1a" stroke="#1a1a1a" stroke-width="0.22" font-weight="normal">Ctrl</text>
<text x="531.10" y="494.60" font-size="8.2" text-anchor="middle" fill="#1a1a1a" stroke="#1a1a1a" stroke-width="0.22" font-weight="normal">+</text>
<text x="544.27" y="494.60" font-size="8.2" text-anchor="middle" fill="#1a1a1a" stroke="#1a1a1a" stroke-width="0.22" font-weight="normal">-</text>
<text x="557.44" y="494.60" font-size="8.2" text-anchor="middle" fill="#1a1a1a" stroke="#1a1a1a" stroke-width="0.22" font-weight="normal">-</text>
<text x="570.61" y="494.60" font-size="8.2" text-anchor="middle" fill="#1a1a1a" stroke="#1a1a1a" stroke-width="0.22" font-weight="normal">-</text>
<text x="583.78" y="494.60" font-size="8.2" text-anchor="middle" fill="#1a1a1a" stroke="#1a1a1a" stroke-width="0.22" font-weight="normal">-</text>
<text x="596.95" y="494.60" font-size="8.2" text-anchor="middle" fill="#1a1a1a" stroke="#1a1a1a" stroke-width="0.22" font-weight="normal">-</text>
<text x="610.12" y="494.60" font-size="8.2" text-anchor="middle" fill="#1a1a1a" stroke="#1a1a1a" stroke-width="0.22" font-weight="normal">-</text>
<text x="623.29" y="494.60" font-size="8.2" text-anchor="middle" fill="#1a1a1a" stroke="#1a1a1a" stroke-width="0.22" font-weight="normal">-</text>
<text x="523.40" y="503.20" font-size="8.2" text-anchor="end" fill="#1a1a1a" stroke="#1a1a1a" stroke-width="0.22" font-weight="normal">IR</text>
<text x="531.10" y="503.30" font-size="8.2" text-anchor="middle" fill="#1a1a1a" stroke="#1a1a1a" stroke-width="0.22" font-weight="normal">-</text>
<text x="544.27" y="503.30" font-size="8.2" text-anchor="middle" fill="#1a1a1a" stroke="#1a1a1a" stroke-width="0.22" font-weight="normal">+</text>
<text x="557.44" y="503.30" font-size="8.2" text-anchor="middle" fill="#1a1a1a" stroke="#1a1a1a" stroke-width="0.22" font-weight="normal">-</text>
<text x="570.61" y="503.30" font-size="8.2" text-anchor="middle" fill="#1a1a1a" stroke="#1a1a1a" stroke-width="0.22" font-weight="normal">-</text>
<text x="583.78" y="503.30" font-size="8.2" text-anchor="middle" fill="#1a1a1a" stroke="#1a1a1a" stroke-width="0.22" font-weight="normal">+</text>
<text x="596.95" y="503.30" font-size="8.2" text-anchor="middle" fill="#1a1a1a" stroke="#1a1a1a" stroke-width="0.22" font-weight="normal">+</text>
<text x="610.12" y="503.30" font-size="8.2" text-anchor="middle" fill="#1a1a1a" stroke="#1a1a1a" stroke-width="0.22" font-weight="normal">-</text>
<text x="623.29" y="503.30" font-size="8.2" text-anchor="middle" fill="#1a1a1a" stroke="#1a1a1a" stroke-width="0.22" font-weight="normal">+</text>
<text x="523.40" y="512.40" font-size="8.2" text-anchor="end" fill="#1a1a1a" stroke="#1a1a1a" stroke-width="0.22" font-weight="normal">αPD-1</text>
<text x="531.10" y="512.50" font-size="8.2" text-anchor="middle" fill="#1a1a1a" stroke="#1a1a1a" stroke-width="0.22" font-weight="normal">-</text>
<text x="544.27" y="512.50" font-size="8.2" text-anchor="middle" fill="#1a1a1a" stroke="#1a1a1a" stroke-width="0.22" font-weight="normal">-</text>
<text x="557.44" y="512.50" font-size="8.2" text-anchor="middle" fill="#1a1a1a" stroke="#1a1a1a" stroke-width="0.22" font-weight="normal">+</text>
<text x="570.61" y="512.50" font-size="8.2" text-anchor="middle" fill="#1a1a1a" stroke="#1a1a1a" stroke-width="0.22" font-weight="normal">-</text>
<text x="583.78" y="512.50" font-size="8.2" text-anchor="middle" fill="#1a1a1a" stroke="#1a1a1a" stroke-width="0.22" font-weight="normal">+</text>
<text x="596.95" y="512.50" font-size="8.2" text-anchor="middle" fill="#1a1a1a" stroke="#1a1a1a" stroke-width="0.22" font-weight="normal">-</text>
<text x="610.12" y="512.50" font-size="8.2" text-anchor="middle" fill="#1a1a1a" stroke="#1a1a1a" stroke-width="0.22" font-weight="normal">+</text>
<text x="623.29" y="512.50" font-size="8.2" text-anchor="middle" fill="#1a1a1a" stroke="#1a1a1a" stroke-width="0.22" font-weight="normal">+</text>
<text x="523.40" y="520.90" font-size="8.2" text-anchor="end" fill="#1a1a1a" stroke="#1a1a1a" stroke-width="0.22" font-weight="normal">PPD</text>
<text x="531.10" y="521.00" font-size="8.2" text-anchor="middle" fill="#1a1a1a" stroke="#1a1a1a" stroke-width="0.22" font-weight="normal">-</text>
<text x="544.27" y="521.00" font-size="8.2" text-anchor="middle" fill="#1a1a1a" stroke="#1a1a1a" stroke-width="0.22" font-weight="normal">-</text>
<text x="557.44" y="521.00" font-size="8.2" text-anchor="middle" fill="#1a1a1a" stroke="#1a1a1a" stroke-width="0.22" font-weight="normal">-</text>
<text x="570.61" y="521.00" font-size="8.2" text-anchor="middle" fill="#1a1a1a" stroke="#1a1a1a" stroke-width="0.22" font-weight="normal">+</text>
<text x="583.78" y="521.00" font-size="8.2" text-anchor="middle" fill="#1a1a1a" stroke="#1a1a1a" stroke-width="0.22" font-weight="normal">-</text>
<text x="596.95" y="521.00" font-size="8.2" text-anchor="middle" fill="#1a1a1a" stroke="#1a1a1a" stroke-width="0.22" font-weight="normal">+</text>
<text x="610.12" y="521.00" font-size="8.2" text-anchor="middle" fill="#1a1a1a" stroke="#1a1a1a" stroke-width="0.22" font-weight="normal">+</text>
<text x="623.29" y="521.00" font-size="8.2" text-anchor="middle" fill="#1a1a1a" stroke="#1a1a1a" stroke-width="0.22" font-weight="normal">+</text>
</svg>
</body></html>
